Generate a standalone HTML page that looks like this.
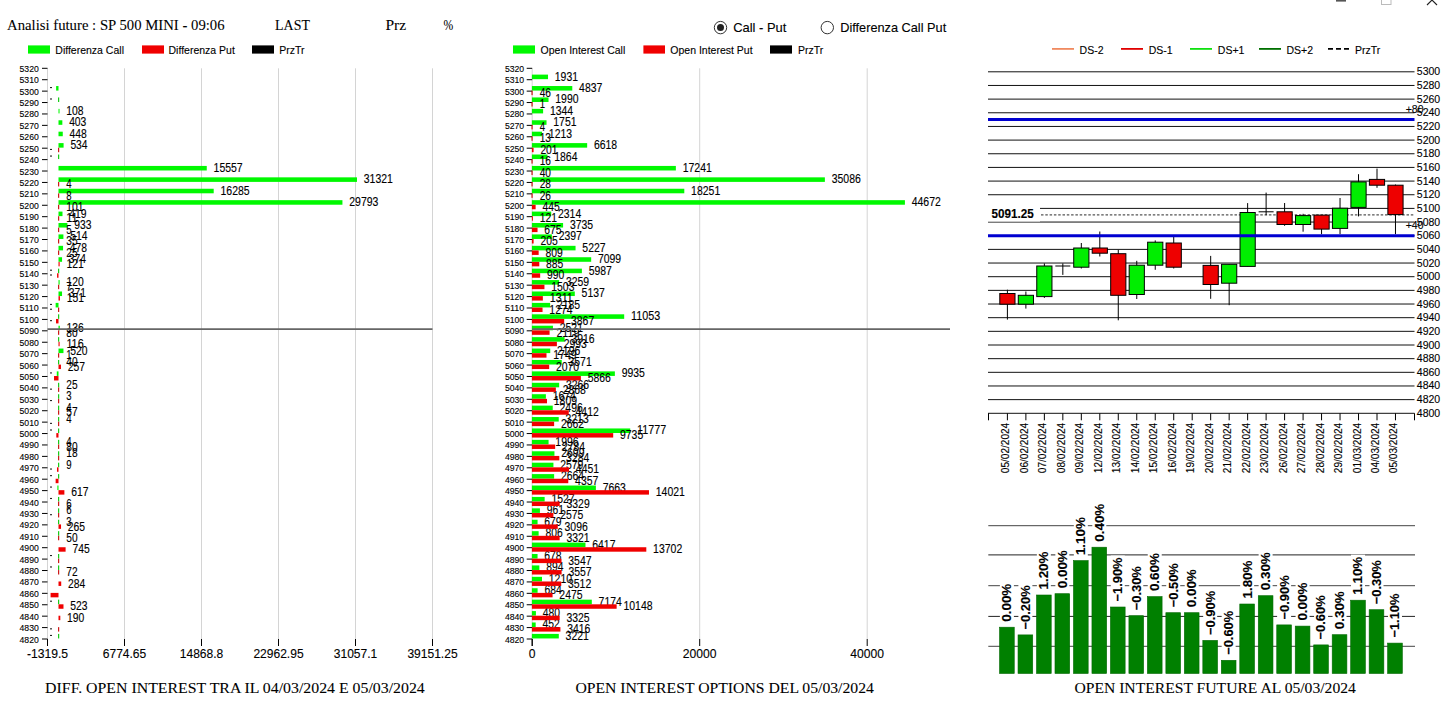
<!DOCTYPE html>
<html><head><meta charset="utf-8"><style>
html,body{margin:0;padding:0;background:#fff;width:1447px;height:705px;overflow:hidden}
svg{display:block}
text{stroke:#000;stroke-width:0.12px}
text.s{stroke-width:0.08px}
</style></head><body>
<svg width="1447" height="705" viewBox="0 0 1447 705">
<rect width="1447" height="705" fill="#fff"/>
<text x="7.00" y="30.05" font-size="15.5" font-family='"Liberation Serif", serif' font-weight="normal" fill="#000" text-anchor="start" textLength="217.6" lengthAdjust="spacingAndGlyphs"  class="s">Analisi future : SP 500 MINI - 09:06</text>
<text x="275.10" y="29.85" font-size="14.5" font-family='"Liberation Serif", serif' font-weight="normal" fill="#000" text-anchor="start" textLength="34.8" lengthAdjust="spacingAndGlyphs"  class="s">LAST</text>
<text x="385.40" y="29.85" font-size="14.5" font-family='"Liberation Serif", serif' font-weight="normal" fill="#000" text-anchor="start" textLength="20.7" lengthAdjust="spacingAndGlyphs"  class="s">Prz</text>
<text x="443.40" y="29.85" font-size="14" font-family='"Liberation Serif", serif' font-weight="normal" fill="#000" text-anchor="start" textLength="9.7" lengthAdjust="spacingAndGlyphs"  class="s">%</text>
<rect x="1336.00" y="0.00" width="10.00" height="1.60" fill="#555" />
<rect x="1381.5" y="-5" width="9.5" height="9.5" fill="none" stroke="#bbb" stroke-width="1"/>
<path d="M1427 5 L1432 0 L1437 5" fill="none" stroke="#222" stroke-width="1.1"/>
<rect x="28.00" y="45.40" width="22.00" height="8.20" fill="#00f800" />
<text x="55.30" y="53.80" font-size="11.5" font-family='"Liberation Sans", sans-serif' font-weight="normal" fill="#000" text-anchor="start" textLength="68.67" lengthAdjust="spacingAndGlyphs" >Differenza Call</text>
<rect x="142.00" y="45.40" width="22.00" height="8.20" fill="#f00000" />
<text x="168.50" y="53.80" font-size="11.5" font-family='"Liberation Sans", sans-serif' font-weight="normal" fill="#000" text-anchor="start" textLength="66.34" lengthAdjust="spacingAndGlyphs" >Differenza Put</text>
<rect x="252.00" y="45.40" width="22.00" height="8.20" fill="#000" />
<text x="279.30" y="53.80" font-size="11.5" font-family='"Liberation Sans", sans-serif' font-weight="normal" fill="#000" text-anchor="start" textLength="25.27" lengthAdjust="spacingAndGlyphs" >PrzTr</text>
<rect x="513.00" y="45.40" width="22.00" height="8.20" fill="#00f800" />
<text x="540.60" y="53.80" font-size="11.5" font-family='"Liberation Sans", sans-serif' font-weight="normal" fill="#000" text-anchor="start" textLength="84.63" lengthAdjust="spacingAndGlyphs" >Open Interest Call</text>
<rect x="643.40" y="45.40" width="21.60" height="8.20" fill="#f00000" />
<text x="670.30" y="53.80" font-size="11.5" font-family='"Liberation Sans", sans-serif' font-weight="normal" fill="#000" text-anchor="start" textLength="82.3" lengthAdjust="spacingAndGlyphs" >Open Interest Put</text>
<rect x="770.00" y="45.40" width="22.00" height="8.20" fill="#000" />
<text x="797.90" y="53.80" font-size="11.5" font-family='"Liberation Sans", sans-serif' font-weight="normal" fill="#000" text-anchor="start" textLength="25.27" lengthAdjust="spacingAndGlyphs" >PrzTr</text>
<circle cx="720.5" cy="27.6" r="6.2" fill="#fff" stroke="#333" stroke-width="1"/>
<circle cx="720.5" cy="27.6" r="3.5" fill="#222"/>
<text x="733.20" y="32.48" font-size="13" font-family='"Liberation Sans", sans-serif' font-weight="normal" fill="#000" text-anchor="start" textLength="53.1" lengthAdjust="spacingAndGlyphs" >Call - Put</text>
<circle cx="827.3" cy="27.6" r="6.2" fill="#fff" stroke="#333" stroke-width="1"/>
<text x="840.20" y="32.48" font-size="13" font-family='"Liberation Sans", sans-serif' font-weight="normal" fill="#000" text-anchor="start" textLength="106" lengthAdjust="spacingAndGlyphs" >Differenza Call Put</text>
<line x1="124.50" y1="68.30" x2="124.50" y2="639.00" stroke="#d4d4d4" stroke-width="1" />
<line x1="201.50" y1="68.30" x2="201.50" y2="639.00" stroke="#d4d4d4" stroke-width="1" />
<line x1="278.50" y1="68.30" x2="278.50" y2="639.00" stroke="#d4d4d4" stroke-width="1" />
<line x1="355.50" y1="68.30" x2="355.50" y2="639.00" stroke="#d4d4d4" stroke-width="1" />
<line x1="432.50" y1="68.30" x2="432.50" y2="639.00" stroke="#d4d4d4" stroke-width="1" />
<line x1="47.50" y1="68.30" x2="47.50" y2="639.00" stroke="#d4d4d4" stroke-width="1" />
<line x1="47.50" y1="639.00" x2="47.50" y2="646.00" stroke="#000" stroke-width="1" />
<line x1="42.00" y1="68.30" x2="47.50" y2="68.30" stroke="#000" stroke-width="1" />
<text x="38.80" y="71.80" font-size="9.5" font-family='"Liberation Sans", sans-serif' font-weight="normal" fill="#000" text-anchor="end" textLength="19.3" lengthAdjust="spacingAndGlyphs" >5320</text>
<line x1="42.00" y1="79.71" x2="47.50" y2="79.71" stroke="#000" stroke-width="1" />
<text x="38.80" y="83.21" font-size="9.5" font-family='"Liberation Sans", sans-serif' font-weight="normal" fill="#000" text-anchor="end" textLength="19.3" lengthAdjust="spacingAndGlyphs" >5310</text>
<line x1="42.00" y1="91.13" x2="47.50" y2="91.13" stroke="#000" stroke-width="1" />
<text x="38.80" y="94.63" font-size="9.5" font-family='"Liberation Sans", sans-serif' font-weight="normal" fill="#000" text-anchor="end" textLength="19.3" lengthAdjust="spacingAndGlyphs" >5300</text>
<line x1="42.00" y1="102.54" x2="47.50" y2="102.54" stroke="#000" stroke-width="1" />
<text x="38.80" y="106.04" font-size="9.5" font-family='"Liberation Sans", sans-serif' font-weight="normal" fill="#000" text-anchor="end" textLength="19.3" lengthAdjust="spacingAndGlyphs" >5290</text>
<line x1="42.00" y1="113.96" x2="47.50" y2="113.96" stroke="#000" stroke-width="1" />
<text x="38.80" y="117.46" font-size="9.5" font-family='"Liberation Sans", sans-serif' font-weight="normal" fill="#000" text-anchor="end" textLength="19.3" lengthAdjust="spacingAndGlyphs" >5280</text>
<line x1="42.00" y1="125.37" x2="47.50" y2="125.37" stroke="#000" stroke-width="1" />
<text x="38.80" y="128.87" font-size="9.5" font-family='"Liberation Sans", sans-serif' font-weight="normal" fill="#000" text-anchor="end" textLength="19.3" lengthAdjust="spacingAndGlyphs" >5270</text>
<line x1="42.00" y1="136.78" x2="47.50" y2="136.78" stroke="#000" stroke-width="1" />
<text x="38.80" y="140.28" font-size="9.5" font-family='"Liberation Sans", sans-serif' font-weight="normal" fill="#000" text-anchor="end" textLength="19.3" lengthAdjust="spacingAndGlyphs" >5260</text>
<line x1="42.00" y1="148.20" x2="47.50" y2="148.20" stroke="#000" stroke-width="1" />
<text x="38.80" y="151.70" font-size="9.5" font-family='"Liberation Sans", sans-serif' font-weight="normal" fill="#000" text-anchor="end" textLength="19.3" lengthAdjust="spacingAndGlyphs" >5250</text>
<line x1="42.00" y1="159.61" x2="47.50" y2="159.61" stroke="#000" stroke-width="1" />
<text x="38.80" y="163.11" font-size="9.5" font-family='"Liberation Sans", sans-serif' font-weight="normal" fill="#000" text-anchor="end" textLength="19.3" lengthAdjust="spacingAndGlyphs" >5240</text>
<line x1="42.00" y1="171.03" x2="47.50" y2="171.03" stroke="#000" stroke-width="1" />
<text x="38.80" y="174.53" font-size="9.5" font-family='"Liberation Sans", sans-serif' font-weight="normal" fill="#000" text-anchor="end" textLength="19.3" lengthAdjust="spacingAndGlyphs" >5230</text>
<line x1="42.00" y1="182.44" x2="47.50" y2="182.44" stroke="#000" stroke-width="1" />
<text x="38.80" y="185.94" font-size="9.5" font-family='"Liberation Sans", sans-serif' font-weight="normal" fill="#000" text-anchor="end" textLength="19.3" lengthAdjust="spacingAndGlyphs" >5220</text>
<line x1="42.00" y1="193.85" x2="47.50" y2="193.85" stroke="#000" stroke-width="1" />
<text x="38.80" y="197.35" font-size="9.5" font-family='"Liberation Sans", sans-serif' font-weight="normal" fill="#000" text-anchor="end" textLength="19.3" lengthAdjust="spacingAndGlyphs" >5210</text>
<line x1="42.00" y1="205.27" x2="47.50" y2="205.27" stroke="#000" stroke-width="1" />
<text x="38.80" y="208.77" font-size="9.5" font-family='"Liberation Sans", sans-serif' font-weight="normal" fill="#000" text-anchor="end" textLength="19.3" lengthAdjust="spacingAndGlyphs" >5200</text>
<line x1="42.00" y1="216.68" x2="47.50" y2="216.68" stroke="#000" stroke-width="1" />
<text x="38.80" y="220.18" font-size="9.5" font-family='"Liberation Sans", sans-serif' font-weight="normal" fill="#000" text-anchor="end" textLength="19.3" lengthAdjust="spacingAndGlyphs" >5190</text>
<line x1="42.00" y1="228.10" x2="47.50" y2="228.10" stroke="#000" stroke-width="1" />
<text x="38.80" y="231.60" font-size="9.5" font-family='"Liberation Sans", sans-serif' font-weight="normal" fill="#000" text-anchor="end" textLength="19.3" lengthAdjust="spacingAndGlyphs" >5180</text>
<line x1="42.00" y1="239.51" x2="47.50" y2="239.51" stroke="#000" stroke-width="1" />
<text x="38.80" y="243.01" font-size="9.5" font-family='"Liberation Sans", sans-serif' font-weight="normal" fill="#000" text-anchor="end" textLength="19.3" lengthAdjust="spacingAndGlyphs" >5170</text>
<line x1="42.00" y1="250.92" x2="47.50" y2="250.92" stroke="#000" stroke-width="1" />
<text x="38.80" y="254.42" font-size="9.5" font-family='"Liberation Sans", sans-serif' font-weight="normal" fill="#000" text-anchor="end" textLength="19.3" lengthAdjust="spacingAndGlyphs" >5160</text>
<line x1="42.00" y1="262.34" x2="47.50" y2="262.34" stroke="#000" stroke-width="1" />
<text x="38.80" y="265.84" font-size="9.5" font-family='"Liberation Sans", sans-serif' font-weight="normal" fill="#000" text-anchor="end" textLength="19.3" lengthAdjust="spacingAndGlyphs" >5150</text>
<line x1="42.00" y1="273.75" x2="47.50" y2="273.75" stroke="#000" stroke-width="1" />
<text x="38.80" y="277.25" font-size="9.5" font-family='"Liberation Sans", sans-serif' font-weight="normal" fill="#000" text-anchor="end" textLength="19.3" lengthAdjust="spacingAndGlyphs" >5140</text>
<line x1="42.00" y1="285.17" x2="47.50" y2="285.17" stroke="#000" stroke-width="1" />
<text x="38.80" y="288.67" font-size="9.5" font-family='"Liberation Sans", sans-serif' font-weight="normal" fill="#000" text-anchor="end" textLength="19.3" lengthAdjust="spacingAndGlyphs" >5130</text>
<line x1="42.00" y1="296.58" x2="47.50" y2="296.58" stroke="#000" stroke-width="1" />
<text x="38.80" y="300.08" font-size="9.5" font-family='"Liberation Sans", sans-serif' font-weight="normal" fill="#000" text-anchor="end" textLength="19.3" lengthAdjust="spacingAndGlyphs" >5120</text>
<line x1="42.00" y1="307.99" x2="47.50" y2="307.99" stroke="#000" stroke-width="1" />
<text x="38.80" y="311.49" font-size="9.5" font-family='"Liberation Sans", sans-serif' font-weight="normal" fill="#000" text-anchor="end" textLength="19.3" lengthAdjust="spacingAndGlyphs" >5110</text>
<line x1="42.00" y1="319.41" x2="47.50" y2="319.41" stroke="#000" stroke-width="1" />
<text x="38.80" y="322.91" font-size="9.5" font-family='"Liberation Sans", sans-serif' font-weight="normal" fill="#000" text-anchor="end" textLength="19.3" lengthAdjust="spacingAndGlyphs" >5100</text>
<line x1="42.00" y1="330.82" x2="47.50" y2="330.82" stroke="#000" stroke-width="1" />
<text x="38.80" y="334.32" font-size="9.5" font-family='"Liberation Sans", sans-serif' font-weight="normal" fill="#000" text-anchor="end" textLength="19.3" lengthAdjust="spacingAndGlyphs" >5090</text>
<line x1="42.00" y1="342.24" x2="47.50" y2="342.24" stroke="#000" stroke-width="1" />
<text x="38.80" y="345.74" font-size="9.5" font-family='"Liberation Sans", sans-serif' font-weight="normal" fill="#000" text-anchor="end" textLength="19.3" lengthAdjust="spacingAndGlyphs" >5080</text>
<line x1="42.00" y1="353.65" x2="47.50" y2="353.65" stroke="#000" stroke-width="1" />
<text x="38.80" y="357.15" font-size="9.5" font-family='"Liberation Sans", sans-serif' font-weight="normal" fill="#000" text-anchor="end" textLength="19.3" lengthAdjust="spacingAndGlyphs" >5070</text>
<line x1="42.00" y1="365.06" x2="47.50" y2="365.06" stroke="#000" stroke-width="1" />
<text x="38.80" y="368.56" font-size="9.5" font-family='"Liberation Sans", sans-serif' font-weight="normal" fill="#000" text-anchor="end" textLength="19.3" lengthAdjust="spacingAndGlyphs" >5060</text>
<line x1="42.00" y1="376.48" x2="47.50" y2="376.48" stroke="#000" stroke-width="1" />
<text x="38.80" y="379.98" font-size="9.5" font-family='"Liberation Sans", sans-serif' font-weight="normal" fill="#000" text-anchor="end" textLength="19.3" lengthAdjust="spacingAndGlyphs" >5050</text>
<line x1="42.00" y1="387.89" x2="47.50" y2="387.89" stroke="#000" stroke-width="1" />
<text x="38.80" y="391.39" font-size="9.5" font-family='"Liberation Sans", sans-serif' font-weight="normal" fill="#000" text-anchor="end" textLength="19.3" lengthAdjust="spacingAndGlyphs" >5040</text>
<line x1="42.00" y1="399.31" x2="47.50" y2="399.31" stroke="#000" stroke-width="1" />
<text x="38.80" y="402.81" font-size="9.5" font-family='"Liberation Sans", sans-serif' font-weight="normal" fill="#000" text-anchor="end" textLength="19.3" lengthAdjust="spacingAndGlyphs" >5030</text>
<line x1="42.00" y1="410.72" x2="47.50" y2="410.72" stroke="#000" stroke-width="1" />
<text x="38.80" y="414.22" font-size="9.5" font-family='"Liberation Sans", sans-serif' font-weight="normal" fill="#000" text-anchor="end" textLength="19.3" lengthAdjust="spacingAndGlyphs" >5020</text>
<line x1="42.00" y1="422.13" x2="47.50" y2="422.13" stroke="#000" stroke-width="1" />
<text x="38.80" y="425.63" font-size="9.5" font-family='"Liberation Sans", sans-serif' font-weight="normal" fill="#000" text-anchor="end" textLength="19.3" lengthAdjust="spacingAndGlyphs" >5010</text>
<line x1="42.00" y1="433.55" x2="47.50" y2="433.55" stroke="#000" stroke-width="1" />
<text x="38.80" y="437.05" font-size="9.5" font-family='"Liberation Sans", sans-serif' font-weight="normal" fill="#000" text-anchor="end" textLength="19.3" lengthAdjust="spacingAndGlyphs" >5000</text>
<line x1="42.00" y1="444.96" x2="47.50" y2="444.96" stroke="#000" stroke-width="1" />
<text x="38.80" y="448.46" font-size="9.5" font-family='"Liberation Sans", sans-serif' font-weight="normal" fill="#000" text-anchor="end" textLength="19.3" lengthAdjust="spacingAndGlyphs" >4990</text>
<line x1="42.00" y1="456.38" x2="47.50" y2="456.38" stroke="#000" stroke-width="1" />
<text x="38.80" y="459.88" font-size="9.5" font-family='"Liberation Sans", sans-serif' font-weight="normal" fill="#000" text-anchor="end" textLength="19.3" lengthAdjust="spacingAndGlyphs" >4980</text>
<line x1="42.00" y1="467.79" x2="47.50" y2="467.79" stroke="#000" stroke-width="1" />
<text x="38.80" y="471.29" font-size="9.5" font-family='"Liberation Sans", sans-serif' font-weight="normal" fill="#000" text-anchor="end" textLength="19.3" lengthAdjust="spacingAndGlyphs" >4970</text>
<line x1="42.00" y1="479.20" x2="47.50" y2="479.20" stroke="#000" stroke-width="1" />
<text x="38.80" y="482.70" font-size="9.5" font-family='"Liberation Sans", sans-serif' font-weight="normal" fill="#000" text-anchor="end" textLength="19.3" lengthAdjust="spacingAndGlyphs" >4960</text>
<line x1="42.00" y1="490.62" x2="47.50" y2="490.62" stroke="#000" stroke-width="1" />
<text x="38.80" y="494.12" font-size="9.5" font-family='"Liberation Sans", sans-serif' font-weight="normal" fill="#000" text-anchor="end" textLength="19.3" lengthAdjust="spacingAndGlyphs" >4950</text>
<line x1="42.00" y1="502.03" x2="47.50" y2="502.03" stroke="#000" stroke-width="1" />
<text x="38.80" y="505.53" font-size="9.5" font-family='"Liberation Sans", sans-serif' font-weight="normal" fill="#000" text-anchor="end" textLength="19.3" lengthAdjust="spacingAndGlyphs" >4940</text>
<line x1="42.00" y1="513.45" x2="47.50" y2="513.45" stroke="#000" stroke-width="1" />
<text x="38.80" y="516.95" font-size="9.5" font-family='"Liberation Sans", sans-serif' font-weight="normal" fill="#000" text-anchor="end" textLength="19.3" lengthAdjust="spacingAndGlyphs" >4930</text>
<line x1="42.00" y1="524.86" x2="47.50" y2="524.86" stroke="#000" stroke-width="1" />
<text x="38.80" y="528.36" font-size="9.5" font-family='"Liberation Sans", sans-serif' font-weight="normal" fill="#000" text-anchor="end" textLength="19.3" lengthAdjust="spacingAndGlyphs" >4920</text>
<line x1="42.00" y1="536.27" x2="47.50" y2="536.27" stroke="#000" stroke-width="1" />
<text x="38.80" y="539.77" font-size="9.5" font-family='"Liberation Sans", sans-serif' font-weight="normal" fill="#000" text-anchor="end" textLength="19.3" lengthAdjust="spacingAndGlyphs" >4910</text>
<line x1="42.00" y1="547.69" x2="47.50" y2="547.69" stroke="#000" stroke-width="1" />
<text x="38.80" y="551.19" font-size="9.5" font-family='"Liberation Sans", sans-serif' font-weight="normal" fill="#000" text-anchor="end" textLength="19.3" lengthAdjust="spacingAndGlyphs" >4900</text>
<line x1="42.00" y1="559.10" x2="47.50" y2="559.10" stroke="#000" stroke-width="1" />
<text x="38.80" y="562.60" font-size="9.5" font-family='"Liberation Sans", sans-serif' font-weight="normal" fill="#000" text-anchor="end" textLength="19.3" lengthAdjust="spacingAndGlyphs" >4890</text>
<line x1="42.00" y1="570.52" x2="47.50" y2="570.52" stroke="#000" stroke-width="1" />
<text x="38.80" y="574.02" font-size="9.5" font-family='"Liberation Sans", sans-serif' font-weight="normal" fill="#000" text-anchor="end" textLength="19.3" lengthAdjust="spacingAndGlyphs" >4880</text>
<line x1="42.00" y1="581.93" x2="47.50" y2="581.93" stroke="#000" stroke-width="1" />
<text x="38.80" y="585.43" font-size="9.5" font-family='"Liberation Sans", sans-serif' font-weight="normal" fill="#000" text-anchor="end" textLength="19.3" lengthAdjust="spacingAndGlyphs" >4870</text>
<line x1="42.00" y1="593.34" x2="47.50" y2="593.34" stroke="#000" stroke-width="1" />
<text x="38.80" y="596.84" font-size="9.5" font-family='"Liberation Sans", sans-serif' font-weight="normal" fill="#000" text-anchor="end" textLength="19.3" lengthAdjust="spacingAndGlyphs" >4860</text>
<line x1="42.00" y1="604.76" x2="47.50" y2="604.76" stroke="#000" stroke-width="1" />
<text x="38.80" y="608.26" font-size="9.5" font-family='"Liberation Sans", sans-serif' font-weight="normal" fill="#000" text-anchor="end" textLength="19.3" lengthAdjust="spacingAndGlyphs" >4850</text>
<line x1="42.00" y1="616.17" x2="47.50" y2="616.17" stroke="#000" stroke-width="1" />
<text x="38.80" y="619.67" font-size="9.5" font-family='"Liberation Sans", sans-serif' font-weight="normal" fill="#000" text-anchor="end" textLength="19.3" lengthAdjust="spacingAndGlyphs" >4840</text>
<line x1="42.00" y1="627.59" x2="47.50" y2="627.59" stroke="#000" stroke-width="1" />
<text x="38.80" y="631.09" font-size="9.5" font-family='"Liberation Sans", sans-serif' font-weight="normal" fill="#000" text-anchor="end" textLength="19.3" lengthAdjust="spacingAndGlyphs" >4830</text>
<line x1="42.00" y1="639.00" x2="47.50" y2="639.00" stroke="#000" stroke-width="1" />
<text x="38.80" y="642.50" font-size="9.5" font-family='"Liberation Sans", sans-serif' font-weight="normal" fill="#000" text-anchor="end" textLength="19.3" lengthAdjust="spacingAndGlyphs" >4820</text>
<line x1="47.50" y1="639.00" x2="47.50" y2="646.00" stroke="#000" stroke-width="1" />
<text x="47.50" y="658.00" font-size="13" font-family='"Liberation Sans", sans-serif' font-weight="normal" fill="#000" text-anchor="middle" textLength="41.25" lengthAdjust="spacingAndGlyphs" >-1319.5</text>
<line x1="124.50" y1="639.00" x2="124.50" y2="646.00" stroke="#000" stroke-width="1" />
<text x="124.50" y="658.00" font-size="13" font-family='"Liberation Sans", sans-serif' font-weight="normal" fill="#000" text-anchor="middle" textLength="43.5" lengthAdjust="spacingAndGlyphs" >6774.65</text>
<line x1="201.50" y1="639.00" x2="201.50" y2="646.00" stroke="#000" stroke-width="1" />
<text x="201.50" y="658.00" font-size="13" font-family='"Liberation Sans", sans-serif' font-weight="normal" fill="#000" text-anchor="middle" textLength="43.5" lengthAdjust="spacingAndGlyphs" >14868.8</text>
<line x1="278.50" y1="639.00" x2="278.50" y2="646.00" stroke="#000" stroke-width="1" />
<text x="278.50" y="658.00" font-size="13" font-family='"Liberation Sans", sans-serif' font-weight="normal" fill="#000" text-anchor="middle" textLength="50.25" lengthAdjust="spacingAndGlyphs" >22962.95</text>
<line x1="355.50" y1="639.00" x2="355.50" y2="646.00" stroke="#000" stroke-width="1" />
<text x="355.50" y="658.00" font-size="13" font-family='"Liberation Sans", sans-serif' font-weight="normal" fill="#000" text-anchor="middle" textLength="43.5" lengthAdjust="spacingAndGlyphs" >31057.1</text>
<line x1="432.50" y1="639.00" x2="432.50" y2="646.00" stroke="#000" stroke-width="1" />
<text x="432.50" y="658.00" font-size="13" font-family='"Liberation Sans", sans-serif' font-weight="normal" fill="#000" text-anchor="middle" textLength="50.25" lengthAdjust="spacingAndGlyphs" >39151.25</text>
<rect x="56.12" y="86.03" width="2.38" height="4.55" fill="#00f800" />
<rect x="50.00" y="87.03" width="2.00" height="1.10" fill="#222" />
<rect x="58.10" y="97.44" width="1.10" height="4.55" fill="#00c800" />
<rect x="50.00" y="98.44" width="2.00" height="1.10" fill="#222" />
<rect x="58.50" y="108.86" width="1.03" height="4.55" fill="#00f800" />
<rect x="58.50" y="120.27" width="3.84" height="4.55" fill="#00f800" />
<rect x="58.50" y="131.68" width="4.27" height="4.55" fill="#00f800" />
<rect x="58.50" y="143.10" width="5.09" height="4.55" fill="#00f800" />
<rect x="58.10" y="154.51" width="1.10" height="4.55" fill="#00c800" />
<rect x="50.00" y="155.51" width="2.00" height="1.10" fill="#222" />
<rect x="58.50" y="165.93" width="148.26" height="4.55" fill="#00f800" />
<rect x="58.50" y="177.34" width="298.49" height="4.55" fill="#00f800" />
<rect x="58.50" y="188.75" width="155.20" height="4.55" fill="#00f800" />
<rect x="58.50" y="200.17" width="283.93" height="4.55" fill="#00f800" />
<rect x="58.50" y="211.58" width="3.99" height="4.55" fill="#00f800" />
<rect x="58.50" y="223.00" width="8.89" height="4.55" fill="#00f800" />
<rect x="58.50" y="234.41" width="4.90" height="4.55" fill="#00f800" />
<rect x="58.50" y="245.82" width="4.56" height="4.55" fill="#00f800" />
<rect x="58.50" y="257.24" width="3.56" height="4.55" fill="#00f800" />
<rect x="58.10" y="268.65" width="1.10" height="4.55" fill="#00c800" />
<rect x="50.00" y="269.65" width="2.00" height="1.10" fill="#222" />
<rect x="58.50" y="280.07" width="1.14" height="4.55" fill="#00f800" />
<rect x="58.50" y="291.48" width="3.54" height="4.55" fill="#00f800" />
<rect x="55.64" y="302.89" width="2.86" height="4.55" fill="#00f800" />
<rect x="50.00" y="303.89" width="2.00" height="1.10" fill="#222" />
<rect x="58.10" y="314.31" width="1.10" height="4.55" fill="#00c800" />
<rect x="58.50" y="325.72" width="1.30" height="4.55" fill="#00f800" />
<rect x="58.10" y="337.14" width="1.10" height="4.55" fill="#00c800" />
<rect x="58.50" y="348.55" width="4.96" height="4.55" fill="#00f800" />
<rect x="58.10" y="359.96" width="1.10" height="4.55" fill="#00c800" />
<rect x="56.78" y="371.38" width="1.72" height="4.55" fill="#00f800" />
<rect x="50.00" y="372.38" width="2.00" height="1.10" fill="#222" />
<rect x="58.10" y="382.79" width="1.10" height="4.55" fill="#00c800" />
<rect x="58.10" y="394.21" width="1.10" height="4.55" fill="#00c800" />
<rect x="58.10" y="405.62" width="1.10" height="4.55" fill="#00c800" />
<rect x="58.10" y="417.03" width="1.10" height="4.55" fill="#00c800" />
<rect x="58.10" y="428.45" width="1.10" height="4.55" fill="#00c800" />
<rect x="50.00" y="429.45" width="2.00" height="1.10" fill="#222" />
<rect x="58.10" y="439.86" width="1.10" height="4.55" fill="#00c800" />
<rect x="58.10" y="451.28" width="1.10" height="4.55" fill="#00c800" />
<rect x="58.10" y="462.69" width="1.10" height="4.55" fill="#00c800" />
<rect x="58.10" y="474.10" width="1.10" height="4.55" fill="#00c800" />
<rect x="50.00" y="475.10" width="2.00" height="1.10" fill="#222" />
<rect x="57.36" y="485.52" width="1.14" height="4.55" fill="#00f800" />
<rect x="50.00" y="486.52" width="2.00" height="1.10" fill="#222" />
<rect x="58.10" y="496.93" width="1.10" height="4.55" fill="#00c800" />
<rect x="50.00" y="497.93" width="2.00" height="1.10" fill="#222" />
<rect x="58.10" y="508.35" width="1.10" height="4.55" fill="#00c800" />
<rect x="58.10" y="519.76" width="1.10" height="4.55" fill="#00c800" />
<rect x="58.10" y="531.17" width="1.10" height="4.55" fill="#00c800" />
<rect x="58.10" y="554.00" width="1.10" height="4.55" fill="#00c800" />
<rect x="50.00" y="555.00" width="2.00" height="1.10" fill="#222" />
<rect x="58.10" y="565.42" width="1.10" height="4.55" fill="#00c800" />
<rect x="50.00" y="566.42" width="2.00" height="1.10" fill="#222" />
<rect x="58.10" y="599.66" width="1.10" height="4.55" fill="#00c800" />
<rect x="50.00" y="600.66" width="2.00" height="1.10" fill="#222" />
<rect x="58.10" y="633.90" width="1.10" height="4.55" fill="#00c800" />
<rect x="50.00" y="634.90" width="2.00" height="1.10" fill="#222" />
<text x="66.33" y="114.86" font-size="12" font-family='"Liberation Sans", sans-serif' font-weight="normal" fill="#000" text-anchor="start" textLength="17.25" lengthAdjust="spacingAndGlyphs" >108</text>
<text x="69.14" y="126.27" font-size="12" font-family='"Liberation Sans", sans-serif' font-weight="normal" fill="#000" text-anchor="start" textLength="17.25" lengthAdjust="spacingAndGlyphs" >403</text>
<text x="69.57" y="137.68" font-size="12" font-family='"Liberation Sans", sans-serif' font-weight="normal" fill="#000" text-anchor="start" textLength="17.25" lengthAdjust="spacingAndGlyphs" >448</text>
<text x="70.39" y="149.10" font-size="12" font-family='"Liberation Sans", sans-serif' font-weight="normal" fill="#000" text-anchor="start" textLength="17.25" lengthAdjust="spacingAndGlyphs" >534</text>
<text x="213.56" y="171.93" font-size="12" font-family='"Liberation Sans", sans-serif' font-weight="normal" fill="#000" text-anchor="start" textLength="29.15" lengthAdjust="spacingAndGlyphs" >15557</text>
<text x="363.79" y="183.34" font-size="12" font-family='"Liberation Sans", sans-serif' font-weight="normal" fill="#000" text-anchor="start" textLength="29.15" lengthAdjust="spacingAndGlyphs" >31321</text>
<text x="220.50" y="194.75" font-size="12" font-family='"Liberation Sans", sans-serif' font-weight="normal" fill="#000" text-anchor="start" textLength="29.15" lengthAdjust="spacingAndGlyphs" >16285</text>
<text x="349.23" y="206.17" font-size="12" font-family='"Liberation Sans", sans-serif' font-weight="normal" fill="#000" text-anchor="start" textLength="29.15" lengthAdjust="spacingAndGlyphs" >29793</text>
<text x="69.29" y="217.58" font-size="12" font-family='"Liberation Sans", sans-serif' font-weight="normal" fill="#000" text-anchor="start" textLength="17.25" lengthAdjust="spacingAndGlyphs" >419</text>
<text x="74.19" y="229.00" font-size="12" font-family='"Liberation Sans", sans-serif' font-weight="normal" fill="#000" text-anchor="start" textLength="17.25" lengthAdjust="spacingAndGlyphs" >933</text>
<text x="70.20" y="240.41" font-size="12" font-family='"Liberation Sans", sans-serif' font-weight="normal" fill="#000" text-anchor="start" textLength="17.25" lengthAdjust="spacingAndGlyphs" >514</text>
<text x="69.86" y="251.82" font-size="12" font-family='"Liberation Sans", sans-serif' font-weight="normal" fill="#000" text-anchor="start" textLength="17.25" lengthAdjust="spacingAndGlyphs" >478</text>
<text x="68.86" y="263.24" font-size="12" font-family='"Liberation Sans", sans-serif' font-weight="normal" fill="#000" text-anchor="start" textLength="17.25" lengthAdjust="spacingAndGlyphs" >374</text>
<text x="66.44" y="286.07" font-size="12" font-family='"Liberation Sans", sans-serif' font-weight="normal" fill="#000" text-anchor="start" textLength="17.25" lengthAdjust="spacingAndGlyphs" >120</text>
<text x="68.84" y="297.48" font-size="12" font-family='"Liberation Sans", sans-serif' font-weight="normal" fill="#000" text-anchor="start" textLength="17.25" lengthAdjust="spacingAndGlyphs" >371</text>
<text x="66.60" y="331.72" font-size="12" font-family='"Liberation Sans", sans-serif' font-weight="normal" fill="#000" text-anchor="start" textLength="17.25" lengthAdjust="spacingAndGlyphs" >136</text>
<text x="70.26" y="354.55" font-size="12" font-family='"Liberation Sans", sans-serif' font-weight="normal" fill="#000" text-anchor="start" textLength="17.25" lengthAdjust="spacingAndGlyphs" >520</text>
<text x="66.30" y="365.96" font-size="12" font-family='"Liberation Sans", sans-serif' font-weight="normal" fill="#000" text-anchor="start" textLength="11.3" lengthAdjust="spacingAndGlyphs" >40</text>
<text x="66.30" y="388.79" font-size="12" font-family='"Liberation Sans", sans-serif' font-weight="normal" fill="#000" text-anchor="start" textLength="11.3" lengthAdjust="spacingAndGlyphs" >25</text>
<text x="66.30" y="400.21" font-size="12" font-family='"Liberation Sans", sans-serif' font-weight="normal" fill="#000" text-anchor="start" textLength="5.3500000000000005" lengthAdjust="spacingAndGlyphs" >3</text>
<text x="66.30" y="411.62" font-size="12" font-family='"Liberation Sans", sans-serif' font-weight="normal" fill="#000" text-anchor="start" textLength="5.3500000000000005" lengthAdjust="spacingAndGlyphs" >4</text>
<text x="66.30" y="423.03" font-size="12" font-family='"Liberation Sans", sans-serif' font-weight="normal" fill="#000" text-anchor="start" textLength="5.3500000000000005" lengthAdjust="spacingAndGlyphs" >4</text>
<text x="66.30" y="445.86" font-size="12" font-family='"Liberation Sans", sans-serif' font-weight="normal" fill="#000" text-anchor="start" textLength="5.3500000000000005" lengthAdjust="spacingAndGlyphs" >4</text>
<text x="66.30" y="457.28" font-size="12" font-family='"Liberation Sans", sans-serif' font-weight="normal" fill="#000" text-anchor="start" textLength="11.3" lengthAdjust="spacingAndGlyphs" >18</text>
<text x="66.30" y="468.69" font-size="12" font-family='"Liberation Sans", sans-serif' font-weight="normal" fill="#000" text-anchor="start" textLength="5.3500000000000005" lengthAdjust="spacingAndGlyphs" >9</text>
<text x="66.30" y="514.35" font-size="12" font-family='"Liberation Sans", sans-serif' font-weight="normal" fill="#000" text-anchor="start" textLength="5.3500000000000005" lengthAdjust="spacingAndGlyphs" >6</text>
<text x="66.30" y="525.76" font-size="12" font-family='"Liberation Sans", sans-serif' font-weight="normal" fill="#000" text-anchor="start" textLength="5.3500000000000005" lengthAdjust="spacingAndGlyphs" >3</text>
<rect x="58.10" y="147.75" width="1.10" height="4.45" fill="#c80000" />
<rect x="50.00" y="148.90" width="2.00" height="1.10" fill="#222" />
<rect x="58.10" y="181.99" width="1.10" height="4.45" fill="#c80000" />
<rect x="58.10" y="193.40" width="1.10" height="4.45" fill="#c80000" />
<rect x="58.10" y="204.82" width="1.10" height="4.45" fill="#c80000" />
<rect x="58.10" y="216.23" width="1.10" height="4.45" fill="#c80000" />
<rect x="58.10" y="227.65" width="1.10" height="4.45" fill="#c80000" />
<rect x="58.10" y="239.06" width="1.10" height="4.45" fill="#c80000" />
<rect x="58.10" y="250.47" width="1.10" height="4.45" fill="#c80000" />
<rect x="58.50" y="261.89" width="1.15" height="4.45" fill="#f00000" />
<rect x="57.07" y="273.30" width="1.43" height="4.45" fill="#f00000" />
<rect x="50.00" y="274.45" width="2.00" height="1.10" fill="#222" />
<rect x="58.10" y="284.72" width="1.10" height="4.45" fill="#c80000" />
<rect x="58.50" y="296.13" width="1.44" height="4.45" fill="#f00000" />
<rect x="58.10" y="307.54" width="1.10" height="4.45" fill="#c80000" />
<rect x="50.00" y="308.69" width="2.00" height="1.10" fill="#222" />
<rect x="56.02" y="318.96" width="2.48" height="4.45" fill="#f00000" />
<rect x="50.00" y="320.11" width="2.00" height="1.10" fill="#222" />
<rect x="58.10" y="330.37" width="1.10" height="4.45" fill="#c80000" />
<rect x="58.50" y="341.79" width="1.11" height="4.45" fill="#f00000" />
<rect x="58.10" y="353.20" width="1.10" height="4.45" fill="#c80000" />
<rect x="58.50" y="364.61" width="2.45" height="4.45" fill="#f00000" />
<rect x="54.02" y="376.03" width="4.48" height="4.45" fill="#f00000" />
<rect x="58.10" y="387.44" width="1.10" height="4.45" fill="#c80000" />
<rect x="50.00" y="388.59" width="2.00" height="1.10" fill="#222" />
<rect x="58.10" y="398.86" width="1.10" height="4.45" fill="#c80000" />
<rect x="50.00" y="400.01" width="2.00" height="1.10" fill="#222" />
<rect x="58.10" y="410.27" width="1.10" height="4.45" fill="#c80000" />
<rect x="58.10" y="421.68" width="1.10" height="4.45" fill="#c80000" />
<rect x="50.00" y="422.83" width="2.00" height="1.10" fill="#222" />
<rect x="56.31" y="433.10" width="2.19" height="4.45" fill="#f00000" />
<rect x="58.10" y="444.51" width="1.10" height="4.45" fill="#c80000" />
<rect x="58.10" y="455.93" width="1.10" height="4.45" fill="#c80000" />
<rect x="56.98" y="467.34" width="1.52" height="4.45" fill="#f00000" />
<rect x="50.00" y="468.49" width="2.00" height="1.10" fill="#222" />
<rect x="55.64" y="478.75" width="2.86" height="4.45" fill="#f00000" />
<rect x="58.50" y="490.17" width="5.88" height="4.45" fill="#f00000" />
<rect x="58.10" y="501.58" width="1.10" height="4.45" fill="#c80000" />
<rect x="58.10" y="513.00" width="1.10" height="4.45" fill="#c80000" />
<rect x="50.00" y="514.15" width="2.00" height="1.10" fill="#222" />
<rect x="58.50" y="524.41" width="2.53" height="4.45" fill="#f00000" />
<rect x="58.10" y="535.82" width="1.10" height="4.45" fill="#c80000" />
<rect x="58.50" y="547.24" width="7.10" height="4.45" fill="#f00000" />
<rect x="58.10" y="558.65" width="1.10" height="4.45" fill="#c80000" />
<rect x="58.10" y="570.07" width="1.10" height="4.45" fill="#c80000" />
<rect x="58.50" y="581.48" width="2.71" height="4.45" fill="#f00000" />
<rect x="50.59" y="592.89" width="7.91" height="4.45" fill="#f00000" />
<rect x="58.50" y="604.31" width="4.98" height="4.45" fill="#f00000" />
<rect x="58.50" y="615.72" width="1.81" height="4.45" fill="#f00000" />
<rect x="58.10" y="627.14" width="1.10" height="4.45" fill="#c80000" />
<rect x="50.00" y="628.29" width="2.00" height="1.10" fill="#222" />
<text x="66.30" y="188.14" font-size="12" font-family='"Liberation Sans", sans-serif' font-weight="normal" fill="#000" text-anchor="start" textLength="5.3500000000000005" lengthAdjust="spacingAndGlyphs" >4</text>
<text x="66.30" y="199.55" font-size="12" font-family='"Liberation Sans", sans-serif' font-weight="normal" fill="#000" text-anchor="start" textLength="5.3500000000000005" lengthAdjust="spacingAndGlyphs" >8</text>
<text x="66.30" y="210.97" font-size="12" font-family='"Liberation Sans", sans-serif' font-weight="normal" fill="#000" text-anchor="start" textLength="17.25" lengthAdjust="spacingAndGlyphs" >101</text>
<text x="66.30" y="222.38" font-size="12" font-family='"Liberation Sans", sans-serif' font-weight="normal" fill="#000" text-anchor="start" textLength="11.3" lengthAdjust="spacingAndGlyphs" >11</text>
<text x="66.30" y="233.80" font-size="12" font-family='"Liberation Sans", sans-serif' font-weight="normal" fill="#000" text-anchor="start" textLength="5.3500000000000005" lengthAdjust="spacingAndGlyphs" >5</text>
<text x="66.30" y="245.21" font-size="12" font-family='"Liberation Sans", sans-serif' font-weight="normal" fill="#000" text-anchor="start" textLength="11.3" lengthAdjust="spacingAndGlyphs" >35</text>
<text x="66.30" y="256.62" font-size="12" font-family='"Liberation Sans", sans-serif' font-weight="normal" fill="#000" text-anchor="start" textLength="11.3" lengthAdjust="spacingAndGlyphs" >25</text>
<text x="66.45" y="268.04" font-size="12" font-family='"Liberation Sans", sans-serif' font-weight="normal" fill="#000" text-anchor="start" textLength="17.25" lengthAdjust="spacingAndGlyphs" >121</text>
<text x="66.30" y="290.87" font-size="12" font-family='"Liberation Sans", sans-serif' font-weight="normal" fill="#000" text-anchor="start" textLength="5.3500000000000005" lengthAdjust="spacingAndGlyphs" >7</text>
<text x="66.74" y="302.28" font-size="12" font-family='"Liberation Sans", sans-serif' font-weight="normal" fill="#000" text-anchor="start" textLength="17.25" lengthAdjust="spacingAndGlyphs" >151</text>
<text x="66.30" y="336.52" font-size="12" font-family='"Liberation Sans", sans-serif' font-weight="normal" fill="#000" text-anchor="start" textLength="11.3" lengthAdjust="spacingAndGlyphs" >80</text>
<text x="66.41" y="347.94" font-size="12" font-family='"Liberation Sans", sans-serif' font-weight="normal" fill="#000" text-anchor="start" textLength="17.25" lengthAdjust="spacingAndGlyphs" >116</text>
<text x="66.30" y="359.35" font-size="12" font-family='"Liberation Sans", sans-serif' font-weight="normal" fill="#000" text-anchor="start" textLength="5.3500000000000005" lengthAdjust="spacingAndGlyphs" >1</text>
<text x="67.75" y="370.76" font-size="12" font-family='"Liberation Sans", sans-serif' font-weight="normal" fill="#000" text-anchor="start" textLength="17.25" lengthAdjust="spacingAndGlyphs" >257</text>
<text x="66.30" y="416.42" font-size="12" font-family='"Liberation Sans", sans-serif' font-weight="normal" fill="#000" text-anchor="start" textLength="11.3" lengthAdjust="spacingAndGlyphs" >57</text>
<text x="66.30" y="450.66" font-size="12" font-family='"Liberation Sans", sans-serif' font-weight="normal" fill="#000" text-anchor="start" textLength="11.3" lengthAdjust="spacingAndGlyphs" >80</text>
<text x="71.18" y="496.32" font-size="12" font-family='"Liberation Sans", sans-serif' font-weight="normal" fill="#000" text-anchor="start" textLength="17.25" lengthAdjust="spacingAndGlyphs" >617</text>
<text x="66.30" y="507.73" font-size="12" font-family='"Liberation Sans", sans-serif' font-weight="normal" fill="#000" text-anchor="start" textLength="5.3500000000000005" lengthAdjust="spacingAndGlyphs" >6</text>
<text x="67.83" y="530.56" font-size="12" font-family='"Liberation Sans", sans-serif' font-weight="normal" fill="#000" text-anchor="start" textLength="17.25" lengthAdjust="spacingAndGlyphs" >265</text>
<text x="66.30" y="541.97" font-size="12" font-family='"Liberation Sans", sans-serif' font-weight="normal" fill="#000" text-anchor="start" textLength="11.3" lengthAdjust="spacingAndGlyphs" >50</text>
<text x="72.40" y="553.39" font-size="12" font-family='"Liberation Sans", sans-serif' font-weight="normal" fill="#000" text-anchor="start" textLength="17.25" lengthAdjust="spacingAndGlyphs" >745</text>
<text x="66.30" y="576.22" font-size="12" font-family='"Liberation Sans", sans-serif' font-weight="normal" fill="#000" text-anchor="start" textLength="11.3" lengthAdjust="spacingAndGlyphs" >72</text>
<text x="68.01" y="587.63" font-size="12" font-family='"Liberation Sans", sans-serif' font-weight="normal" fill="#000" text-anchor="start" textLength="17.25" lengthAdjust="spacingAndGlyphs" >284</text>
<text x="70.28" y="610.46" font-size="12" font-family='"Liberation Sans", sans-serif' font-weight="normal" fill="#000" text-anchor="start" textLength="17.25" lengthAdjust="spacingAndGlyphs" >523</text>
<text x="67.11" y="621.87" font-size="12" font-family='"Liberation Sans", sans-serif' font-weight="normal" fill="#000" text-anchor="start" textLength="17.25" lengthAdjust="spacingAndGlyphs" >190</text>
<line x1="47.50" y1="329.10" x2="432.50" y2="329.10" stroke="#666" stroke-width="1.8" />
<line x1="699.70" y1="68.30" x2="699.70" y2="639.00" stroke="#d4d4d4" stroke-width="1" />
<line x1="867.20" y1="68.30" x2="867.20" y2="639.00" stroke="#d4d4d4" stroke-width="1" />
<line x1="532.20" y1="68.30" x2="532.20" y2="639.00" stroke="#d4d4d4" stroke-width="1" />
<line x1="532.20" y1="639.00" x2="532.20" y2="646.00" stroke="#000" stroke-width="1" />
<line x1="526.70" y1="68.30" x2="532.20" y2="68.30" stroke="#000" stroke-width="1" />
<text x="524.20" y="71.80" font-size="9.5" font-family='"Liberation Sans", sans-serif' font-weight="normal" fill="#000" text-anchor="end" textLength="19.3" lengthAdjust="spacingAndGlyphs" >5320</text>
<line x1="526.70" y1="79.71" x2="532.20" y2="79.71" stroke="#000" stroke-width="1" />
<text x="524.20" y="83.21" font-size="9.5" font-family='"Liberation Sans", sans-serif' font-weight="normal" fill="#000" text-anchor="end" textLength="19.3" lengthAdjust="spacingAndGlyphs" >5310</text>
<line x1="526.70" y1="91.13" x2="532.20" y2="91.13" stroke="#000" stroke-width="1" />
<text x="524.20" y="94.63" font-size="9.5" font-family='"Liberation Sans", sans-serif' font-weight="normal" fill="#000" text-anchor="end" textLength="19.3" lengthAdjust="spacingAndGlyphs" >5300</text>
<line x1="526.70" y1="102.54" x2="532.20" y2="102.54" stroke="#000" stroke-width="1" />
<text x="524.20" y="106.04" font-size="9.5" font-family='"Liberation Sans", sans-serif' font-weight="normal" fill="#000" text-anchor="end" textLength="19.3" lengthAdjust="spacingAndGlyphs" >5290</text>
<line x1="526.70" y1="113.96" x2="532.20" y2="113.96" stroke="#000" stroke-width="1" />
<text x="524.20" y="117.46" font-size="9.5" font-family='"Liberation Sans", sans-serif' font-weight="normal" fill="#000" text-anchor="end" textLength="19.3" lengthAdjust="spacingAndGlyphs" >5280</text>
<line x1="526.70" y1="125.37" x2="532.20" y2="125.37" stroke="#000" stroke-width="1" />
<text x="524.20" y="128.87" font-size="9.5" font-family='"Liberation Sans", sans-serif' font-weight="normal" fill="#000" text-anchor="end" textLength="19.3" lengthAdjust="spacingAndGlyphs" >5270</text>
<line x1="526.70" y1="136.78" x2="532.20" y2="136.78" stroke="#000" stroke-width="1" />
<text x="524.20" y="140.28" font-size="9.5" font-family='"Liberation Sans", sans-serif' font-weight="normal" fill="#000" text-anchor="end" textLength="19.3" lengthAdjust="spacingAndGlyphs" >5260</text>
<line x1="526.70" y1="148.20" x2="532.20" y2="148.20" stroke="#000" stroke-width="1" />
<text x="524.20" y="151.70" font-size="9.5" font-family='"Liberation Sans", sans-serif' font-weight="normal" fill="#000" text-anchor="end" textLength="19.3" lengthAdjust="spacingAndGlyphs" >5250</text>
<line x1="526.70" y1="159.61" x2="532.20" y2="159.61" stroke="#000" stroke-width="1" />
<text x="524.20" y="163.11" font-size="9.5" font-family='"Liberation Sans", sans-serif' font-weight="normal" fill="#000" text-anchor="end" textLength="19.3" lengthAdjust="spacingAndGlyphs" >5240</text>
<line x1="526.70" y1="171.03" x2="532.20" y2="171.03" stroke="#000" stroke-width="1" />
<text x="524.20" y="174.53" font-size="9.5" font-family='"Liberation Sans", sans-serif' font-weight="normal" fill="#000" text-anchor="end" textLength="19.3" lengthAdjust="spacingAndGlyphs" >5230</text>
<line x1="526.70" y1="182.44" x2="532.20" y2="182.44" stroke="#000" stroke-width="1" />
<text x="524.20" y="185.94" font-size="9.5" font-family='"Liberation Sans", sans-serif' font-weight="normal" fill="#000" text-anchor="end" textLength="19.3" lengthAdjust="spacingAndGlyphs" >5220</text>
<line x1="526.70" y1="193.85" x2="532.20" y2="193.85" stroke="#000" stroke-width="1" />
<text x="524.20" y="197.35" font-size="9.5" font-family='"Liberation Sans", sans-serif' font-weight="normal" fill="#000" text-anchor="end" textLength="19.3" lengthAdjust="spacingAndGlyphs" >5210</text>
<line x1="526.70" y1="205.27" x2="532.20" y2="205.27" stroke="#000" stroke-width="1" />
<text x="524.20" y="208.77" font-size="9.5" font-family='"Liberation Sans", sans-serif' font-weight="normal" fill="#000" text-anchor="end" textLength="19.3" lengthAdjust="spacingAndGlyphs" >5200</text>
<line x1="526.70" y1="216.68" x2="532.20" y2="216.68" stroke="#000" stroke-width="1" />
<text x="524.20" y="220.18" font-size="9.5" font-family='"Liberation Sans", sans-serif' font-weight="normal" fill="#000" text-anchor="end" textLength="19.3" lengthAdjust="spacingAndGlyphs" >5190</text>
<line x1="526.70" y1="228.10" x2="532.20" y2="228.10" stroke="#000" stroke-width="1" />
<text x="524.20" y="231.60" font-size="9.5" font-family='"Liberation Sans", sans-serif' font-weight="normal" fill="#000" text-anchor="end" textLength="19.3" lengthAdjust="spacingAndGlyphs" >5180</text>
<line x1="526.70" y1="239.51" x2="532.20" y2="239.51" stroke="#000" stroke-width="1" />
<text x="524.20" y="243.01" font-size="9.5" font-family='"Liberation Sans", sans-serif' font-weight="normal" fill="#000" text-anchor="end" textLength="19.3" lengthAdjust="spacingAndGlyphs" >5170</text>
<line x1="526.70" y1="250.92" x2="532.20" y2="250.92" stroke="#000" stroke-width="1" />
<text x="524.20" y="254.42" font-size="9.5" font-family='"Liberation Sans", sans-serif' font-weight="normal" fill="#000" text-anchor="end" textLength="19.3" lengthAdjust="spacingAndGlyphs" >5160</text>
<line x1="526.70" y1="262.34" x2="532.20" y2="262.34" stroke="#000" stroke-width="1" />
<text x="524.20" y="265.84" font-size="9.5" font-family='"Liberation Sans", sans-serif' font-weight="normal" fill="#000" text-anchor="end" textLength="19.3" lengthAdjust="spacingAndGlyphs" >5150</text>
<line x1="526.70" y1="273.75" x2="532.20" y2="273.75" stroke="#000" stroke-width="1" />
<text x="524.20" y="277.25" font-size="9.5" font-family='"Liberation Sans", sans-serif' font-weight="normal" fill="#000" text-anchor="end" textLength="19.3" lengthAdjust="spacingAndGlyphs" >5140</text>
<line x1="526.70" y1="285.17" x2="532.20" y2="285.17" stroke="#000" stroke-width="1" />
<text x="524.20" y="288.67" font-size="9.5" font-family='"Liberation Sans", sans-serif' font-weight="normal" fill="#000" text-anchor="end" textLength="19.3" lengthAdjust="spacingAndGlyphs" >5130</text>
<line x1="526.70" y1="296.58" x2="532.20" y2="296.58" stroke="#000" stroke-width="1" />
<text x="524.20" y="300.08" font-size="9.5" font-family='"Liberation Sans", sans-serif' font-weight="normal" fill="#000" text-anchor="end" textLength="19.3" lengthAdjust="spacingAndGlyphs" >5120</text>
<line x1="526.70" y1="307.99" x2="532.20" y2="307.99" stroke="#000" stroke-width="1" />
<text x="524.20" y="311.49" font-size="9.5" font-family='"Liberation Sans", sans-serif' font-weight="normal" fill="#000" text-anchor="end" textLength="19.3" lengthAdjust="spacingAndGlyphs" >5110</text>
<line x1="526.70" y1="319.41" x2="532.20" y2="319.41" stroke="#000" stroke-width="1" />
<text x="524.20" y="322.91" font-size="9.5" font-family='"Liberation Sans", sans-serif' font-weight="normal" fill="#000" text-anchor="end" textLength="19.3" lengthAdjust="spacingAndGlyphs" >5100</text>
<line x1="526.70" y1="330.82" x2="532.20" y2="330.82" stroke="#000" stroke-width="1" />
<text x="524.20" y="334.32" font-size="9.5" font-family='"Liberation Sans", sans-serif' font-weight="normal" fill="#000" text-anchor="end" textLength="19.3" lengthAdjust="spacingAndGlyphs" >5090</text>
<line x1="526.70" y1="342.24" x2="532.20" y2="342.24" stroke="#000" stroke-width="1" />
<text x="524.20" y="345.74" font-size="9.5" font-family='"Liberation Sans", sans-serif' font-weight="normal" fill="#000" text-anchor="end" textLength="19.3" lengthAdjust="spacingAndGlyphs" >5080</text>
<line x1="526.70" y1="353.65" x2="532.20" y2="353.65" stroke="#000" stroke-width="1" />
<text x="524.20" y="357.15" font-size="9.5" font-family='"Liberation Sans", sans-serif' font-weight="normal" fill="#000" text-anchor="end" textLength="19.3" lengthAdjust="spacingAndGlyphs" >5070</text>
<line x1="526.70" y1="365.06" x2="532.20" y2="365.06" stroke="#000" stroke-width="1" />
<text x="524.20" y="368.56" font-size="9.5" font-family='"Liberation Sans", sans-serif' font-weight="normal" fill="#000" text-anchor="end" textLength="19.3" lengthAdjust="spacingAndGlyphs" >5060</text>
<line x1="526.70" y1="376.48" x2="532.20" y2="376.48" stroke="#000" stroke-width="1" />
<text x="524.20" y="379.98" font-size="9.5" font-family='"Liberation Sans", sans-serif' font-weight="normal" fill="#000" text-anchor="end" textLength="19.3" lengthAdjust="spacingAndGlyphs" >5050</text>
<line x1="526.70" y1="387.89" x2="532.20" y2="387.89" stroke="#000" stroke-width="1" />
<text x="524.20" y="391.39" font-size="9.5" font-family='"Liberation Sans", sans-serif' font-weight="normal" fill="#000" text-anchor="end" textLength="19.3" lengthAdjust="spacingAndGlyphs" >5040</text>
<line x1="526.70" y1="399.31" x2="532.20" y2="399.31" stroke="#000" stroke-width="1" />
<text x="524.20" y="402.81" font-size="9.5" font-family='"Liberation Sans", sans-serif' font-weight="normal" fill="#000" text-anchor="end" textLength="19.3" lengthAdjust="spacingAndGlyphs" >5030</text>
<line x1="526.70" y1="410.72" x2="532.20" y2="410.72" stroke="#000" stroke-width="1" />
<text x="524.20" y="414.22" font-size="9.5" font-family='"Liberation Sans", sans-serif' font-weight="normal" fill="#000" text-anchor="end" textLength="19.3" lengthAdjust="spacingAndGlyphs" >5020</text>
<line x1="526.70" y1="422.13" x2="532.20" y2="422.13" stroke="#000" stroke-width="1" />
<text x="524.20" y="425.63" font-size="9.5" font-family='"Liberation Sans", sans-serif' font-weight="normal" fill="#000" text-anchor="end" textLength="19.3" lengthAdjust="spacingAndGlyphs" >5010</text>
<line x1="526.70" y1="433.55" x2="532.20" y2="433.55" stroke="#000" stroke-width="1" />
<text x="524.20" y="437.05" font-size="9.5" font-family='"Liberation Sans", sans-serif' font-weight="normal" fill="#000" text-anchor="end" textLength="19.3" lengthAdjust="spacingAndGlyphs" >5000</text>
<line x1="526.70" y1="444.96" x2="532.20" y2="444.96" stroke="#000" stroke-width="1" />
<text x="524.20" y="448.46" font-size="9.5" font-family='"Liberation Sans", sans-serif' font-weight="normal" fill="#000" text-anchor="end" textLength="19.3" lengthAdjust="spacingAndGlyphs" >4990</text>
<line x1="526.70" y1="456.38" x2="532.20" y2="456.38" stroke="#000" stroke-width="1" />
<text x="524.20" y="459.88" font-size="9.5" font-family='"Liberation Sans", sans-serif' font-weight="normal" fill="#000" text-anchor="end" textLength="19.3" lengthAdjust="spacingAndGlyphs" >4980</text>
<line x1="526.70" y1="467.79" x2="532.20" y2="467.79" stroke="#000" stroke-width="1" />
<text x="524.20" y="471.29" font-size="9.5" font-family='"Liberation Sans", sans-serif' font-weight="normal" fill="#000" text-anchor="end" textLength="19.3" lengthAdjust="spacingAndGlyphs" >4970</text>
<line x1="526.70" y1="479.20" x2="532.20" y2="479.20" stroke="#000" stroke-width="1" />
<text x="524.20" y="482.70" font-size="9.5" font-family='"Liberation Sans", sans-serif' font-weight="normal" fill="#000" text-anchor="end" textLength="19.3" lengthAdjust="spacingAndGlyphs" >4960</text>
<line x1="526.70" y1="490.62" x2="532.20" y2="490.62" stroke="#000" stroke-width="1" />
<text x="524.20" y="494.12" font-size="9.5" font-family='"Liberation Sans", sans-serif' font-weight="normal" fill="#000" text-anchor="end" textLength="19.3" lengthAdjust="spacingAndGlyphs" >4950</text>
<line x1="526.70" y1="502.03" x2="532.20" y2="502.03" stroke="#000" stroke-width="1" />
<text x="524.20" y="505.53" font-size="9.5" font-family='"Liberation Sans", sans-serif' font-weight="normal" fill="#000" text-anchor="end" textLength="19.3" lengthAdjust="spacingAndGlyphs" >4940</text>
<line x1="526.70" y1="513.45" x2="532.20" y2="513.45" stroke="#000" stroke-width="1" />
<text x="524.20" y="516.95" font-size="9.5" font-family='"Liberation Sans", sans-serif' font-weight="normal" fill="#000" text-anchor="end" textLength="19.3" lengthAdjust="spacingAndGlyphs" >4930</text>
<line x1="526.70" y1="524.86" x2="532.20" y2="524.86" stroke="#000" stroke-width="1" />
<text x="524.20" y="528.36" font-size="9.5" font-family='"Liberation Sans", sans-serif' font-weight="normal" fill="#000" text-anchor="end" textLength="19.3" lengthAdjust="spacingAndGlyphs" >4920</text>
<line x1="526.70" y1="536.27" x2="532.20" y2="536.27" stroke="#000" stroke-width="1" />
<text x="524.20" y="539.77" font-size="9.5" font-family='"Liberation Sans", sans-serif' font-weight="normal" fill="#000" text-anchor="end" textLength="19.3" lengthAdjust="spacingAndGlyphs" >4910</text>
<line x1="526.70" y1="547.69" x2="532.20" y2="547.69" stroke="#000" stroke-width="1" />
<text x="524.20" y="551.19" font-size="9.5" font-family='"Liberation Sans", sans-serif' font-weight="normal" fill="#000" text-anchor="end" textLength="19.3" lengthAdjust="spacingAndGlyphs" >4900</text>
<line x1="526.70" y1="559.10" x2="532.20" y2="559.10" stroke="#000" stroke-width="1" />
<text x="524.20" y="562.60" font-size="9.5" font-family='"Liberation Sans", sans-serif' font-weight="normal" fill="#000" text-anchor="end" textLength="19.3" lengthAdjust="spacingAndGlyphs" >4890</text>
<line x1="526.70" y1="570.52" x2="532.20" y2="570.52" stroke="#000" stroke-width="1" />
<text x="524.20" y="574.02" font-size="9.5" font-family='"Liberation Sans", sans-serif' font-weight="normal" fill="#000" text-anchor="end" textLength="19.3" lengthAdjust="spacingAndGlyphs" >4880</text>
<line x1="526.70" y1="581.93" x2="532.20" y2="581.93" stroke="#000" stroke-width="1" />
<text x="524.20" y="585.43" font-size="9.5" font-family='"Liberation Sans", sans-serif' font-weight="normal" fill="#000" text-anchor="end" textLength="19.3" lengthAdjust="spacingAndGlyphs" >4870</text>
<line x1="526.70" y1="593.34" x2="532.20" y2="593.34" stroke="#000" stroke-width="1" />
<text x="524.20" y="596.84" font-size="9.5" font-family='"Liberation Sans", sans-serif' font-weight="normal" fill="#000" text-anchor="end" textLength="19.3" lengthAdjust="spacingAndGlyphs" >4860</text>
<line x1="526.70" y1="604.76" x2="532.20" y2="604.76" stroke="#000" stroke-width="1" />
<text x="524.20" y="608.26" font-size="9.5" font-family='"Liberation Sans", sans-serif' font-weight="normal" fill="#000" text-anchor="end" textLength="19.3" lengthAdjust="spacingAndGlyphs" >4850</text>
<line x1="526.70" y1="616.17" x2="532.20" y2="616.17" stroke="#000" stroke-width="1" />
<text x="524.20" y="619.67" font-size="9.5" font-family='"Liberation Sans", sans-serif' font-weight="normal" fill="#000" text-anchor="end" textLength="19.3" lengthAdjust="spacingAndGlyphs" >4840</text>
<line x1="526.70" y1="627.59" x2="532.20" y2="627.59" stroke="#000" stroke-width="1" />
<text x="524.20" y="631.09" font-size="9.5" font-family='"Liberation Sans", sans-serif' font-weight="normal" fill="#000" text-anchor="end" textLength="19.3" lengthAdjust="spacingAndGlyphs" >4830</text>
<line x1="526.70" y1="639.00" x2="532.20" y2="639.00" stroke="#000" stroke-width="1" />
<text x="524.20" y="642.50" font-size="9.5" font-family='"Liberation Sans", sans-serif' font-weight="normal" fill="#000" text-anchor="end" textLength="19.3" lengthAdjust="spacingAndGlyphs" >4820</text>
<line x1="532.20" y1="639.00" x2="532.20" y2="646.00" stroke="#000" stroke-width="1" />
<text x="532.20" y="658.00" font-size="13" font-family='"Liberation Sans", sans-serif' font-weight="normal" fill="#000" text-anchor="middle" textLength="6.75" lengthAdjust="spacingAndGlyphs" >0</text>
<line x1="699.70" y1="639.00" x2="699.70" y2="646.00" stroke="#000" stroke-width="1" />
<text x="699.70" y="658.00" font-size="13" font-family='"Liberation Sans", sans-serif' font-weight="normal" fill="#000" text-anchor="middle" textLength="33.75" lengthAdjust="spacingAndGlyphs" >20000</text>
<line x1="867.20" y1="639.00" x2="867.20" y2="646.00" stroke="#000" stroke-width="1" />
<text x="867.20" y="658.00" font-size="13" font-family='"Liberation Sans", sans-serif' font-weight="normal" fill="#000" text-anchor="middle" textLength="33.75" lengthAdjust="spacingAndGlyphs" >40000</text>
<rect x="531.90" y="74.61" width="16.12" height="4.55" fill="#00f800" />
<rect x="531.90" y="86.03" width="40.39" height="4.55" fill="#00f800" />
<rect x="531.90" y="97.44" width="16.62" height="4.55" fill="#00f800" />
<rect x="531.90" y="108.86" width="11.22" height="4.55" fill="#00f800" />
<rect x="531.90" y="120.27" width="14.62" height="4.55" fill="#00f800" />
<rect x="531.90" y="131.68" width="10.13" height="4.55" fill="#00f800" />
<rect x="531.90" y="143.10" width="55.26" height="4.55" fill="#00f800" />
<rect x="531.90" y="154.51" width="15.56" height="4.55" fill="#00f800" />
<rect x="531.90" y="165.93" width="143.96" height="4.55" fill="#00f800" />
<rect x="531.90" y="177.34" width="292.97" height="4.55" fill="#00f800" />
<rect x="531.90" y="188.75" width="152.40" height="4.55" fill="#00f800" />
<rect x="531.90" y="200.17" width="373.01" height="4.55" fill="#00f800" />
<rect x="531.90" y="211.58" width="19.32" height="4.55" fill="#00f800" />
<rect x="531.90" y="223.00" width="31.19" height="4.55" fill="#00f800" />
<rect x="531.90" y="234.41" width="20.01" height="4.55" fill="#00f800" />
<rect x="531.90" y="245.82" width="43.65" height="4.55" fill="#00f800" />
<rect x="531.90" y="257.24" width="59.28" height="4.55" fill="#00f800" />
<rect x="531.90" y="268.65" width="49.99" height="4.55" fill="#00f800" />
<rect x="531.90" y="280.07" width="27.21" height="4.55" fill="#00f800" />
<rect x="531.90" y="291.48" width="42.89" height="4.55" fill="#00f800" />
<rect x="531.90" y="302.89" width="18.24" height="4.55" fill="#00f800" />
<rect x="531.90" y="314.31" width="92.29" height="4.55" fill="#00f800" />
<rect x="531.90" y="325.72" width="21.05" height="4.55" fill="#00f800" />
<rect x="531.90" y="337.14" width="32.70" height="4.55" fill="#00f800" />
<rect x="531.90" y="348.55" width="18.34" height="4.55" fill="#00f800" />
<rect x="531.90" y="359.96" width="29.82" height="4.55" fill="#00f800" />
<rect x="531.90" y="371.38" width="82.96" height="4.55" fill="#00f800" />
<rect x="531.90" y="382.79" width="27.27" height="4.55" fill="#00f800" />
<rect x="531.90" y="394.21" width="13.98" height="4.55" fill="#00f800" />
<rect x="531.90" y="405.62" width="20.84" height="4.55" fill="#00f800" />
<rect x="531.90" y="417.03" width="26.83" height="4.55" fill="#00f800" />
<rect x="531.90" y="428.45" width="98.34" height="4.55" fill="#00f800" />
<rect x="531.90" y="439.86" width="16.67" height="4.55" fill="#00f800" />
<rect x="531.90" y="451.28" width="22.54" height="4.55" fill="#00f800" />
<rect x="531.90" y="462.69" width="21.53" height="4.55" fill="#00f800" />
<rect x="531.90" y="474.10" width="22.24" height="4.55" fill="#00f800" />
<rect x="531.90" y="485.52" width="63.99" height="4.55" fill="#00f800" />
<rect x="531.90" y="496.93" width="12.75" height="4.55" fill="#00f800" />
<rect x="531.90" y="508.35" width="8.02" height="4.55" fill="#00f800" />
<rect x="531.90" y="519.76" width="5.67" height="4.55" fill="#00f800" />
<rect x="531.90" y="531.17" width="6.73" height="4.55" fill="#00f800" />
<rect x="531.90" y="542.59" width="53.58" height="4.55" fill="#00f800" />
<rect x="531.90" y="554.00" width="5.66" height="4.55" fill="#00f800" />
<rect x="531.90" y="565.42" width="7.46" height="4.55" fill="#00f800" />
<rect x="531.90" y="576.83" width="10.10" height="4.55" fill="#00f800" />
<rect x="531.90" y="588.24" width="5.71" height="4.55" fill="#00f800" />
<rect x="531.90" y="599.66" width="59.90" height="4.55" fill="#00f800" />
<rect x="531.90" y="611.07" width="4.01" height="4.55" fill="#00f800" />
<rect x="531.90" y="622.49" width="3.77" height="4.55" fill="#00f800" />
<rect x="531.90" y="633.90" width="26.90" height="4.55" fill="#00f800" />
<text x="554.82" y="80.61" font-size="12" font-family='"Liberation Sans", sans-serif' font-weight="normal" fill="#000" text-anchor="start" textLength="23.2" lengthAdjust="spacingAndGlyphs" >1931</text>
<text x="579.09" y="92.03" font-size="12" font-family='"Liberation Sans", sans-serif' font-weight="normal" fill="#000" text-anchor="start" textLength="23.2" lengthAdjust="spacingAndGlyphs" >4837</text>
<text x="555.32" y="103.44" font-size="12" font-family='"Liberation Sans", sans-serif' font-weight="normal" fill="#000" text-anchor="start" textLength="23.2" lengthAdjust="spacingAndGlyphs" >1990</text>
<text x="549.92" y="114.86" font-size="12" font-family='"Liberation Sans", sans-serif' font-weight="normal" fill="#000" text-anchor="start" textLength="23.2" lengthAdjust="spacingAndGlyphs" >1344</text>
<text x="553.32" y="126.27" font-size="12" font-family='"Liberation Sans", sans-serif' font-weight="normal" fill="#000" text-anchor="start" textLength="23.2" lengthAdjust="spacingAndGlyphs" >1751</text>
<text x="548.83" y="137.68" font-size="12" font-family='"Liberation Sans", sans-serif' font-weight="normal" fill="#000" text-anchor="start" textLength="23.2" lengthAdjust="spacingAndGlyphs" >1213</text>
<text x="593.96" y="149.10" font-size="12" font-family='"Liberation Sans", sans-serif' font-weight="normal" fill="#000" text-anchor="start" textLength="23.2" lengthAdjust="spacingAndGlyphs" >6618</text>
<text x="554.26" y="160.51" font-size="12" font-family='"Liberation Sans", sans-serif' font-weight="normal" fill="#000" text-anchor="start" textLength="23.2" lengthAdjust="spacingAndGlyphs" >1864</text>
<text x="682.66" y="171.93" font-size="12" font-family='"Liberation Sans", sans-serif' font-weight="normal" fill="#000" text-anchor="start" textLength="29.15" lengthAdjust="spacingAndGlyphs" >17241</text>
<text x="831.67" y="183.34" font-size="12" font-family='"Liberation Sans", sans-serif' font-weight="normal" fill="#000" text-anchor="start" textLength="29.15" lengthAdjust="spacingAndGlyphs" >35086</text>
<text x="691.10" y="194.75" font-size="12" font-family='"Liberation Sans", sans-serif' font-weight="normal" fill="#000" text-anchor="start" textLength="29.15" lengthAdjust="spacingAndGlyphs" >18251</text>
<text x="911.71" y="206.17" font-size="12" font-family='"Liberation Sans", sans-serif' font-weight="normal" fill="#000" text-anchor="start" textLength="29.15" lengthAdjust="spacingAndGlyphs" >44672</text>
<text x="558.02" y="217.58" font-size="12" font-family='"Liberation Sans", sans-serif' font-weight="normal" fill="#000" text-anchor="start" textLength="23.2" lengthAdjust="spacingAndGlyphs" >2314</text>
<text x="569.89" y="229.00" font-size="12" font-family='"Liberation Sans", sans-serif' font-weight="normal" fill="#000" text-anchor="start" textLength="23.2" lengthAdjust="spacingAndGlyphs" >3735</text>
<text x="558.71" y="240.41" font-size="12" font-family='"Liberation Sans", sans-serif' font-weight="normal" fill="#000" text-anchor="start" textLength="23.2" lengthAdjust="spacingAndGlyphs" >2397</text>
<text x="582.35" y="251.82" font-size="12" font-family='"Liberation Sans", sans-serif' font-weight="normal" fill="#000" text-anchor="start" textLength="23.2" lengthAdjust="spacingAndGlyphs" >5227</text>
<text x="597.98" y="263.24" font-size="12" font-family='"Liberation Sans", sans-serif' font-weight="normal" fill="#000" text-anchor="start" textLength="23.2" lengthAdjust="spacingAndGlyphs" >7099</text>
<text x="588.69" y="274.65" font-size="12" font-family='"Liberation Sans", sans-serif' font-weight="normal" fill="#000" text-anchor="start" textLength="23.2" lengthAdjust="spacingAndGlyphs" >5987</text>
<text x="565.91" y="286.07" font-size="12" font-family='"Liberation Sans", sans-serif' font-weight="normal" fill="#000" text-anchor="start" textLength="23.2" lengthAdjust="spacingAndGlyphs" >3259</text>
<text x="581.59" y="297.48" font-size="12" font-family='"Liberation Sans", sans-serif' font-weight="normal" fill="#000" text-anchor="start" textLength="23.2" lengthAdjust="spacingAndGlyphs" >5137</text>
<text x="556.94" y="308.89" font-size="12" font-family='"Liberation Sans", sans-serif' font-weight="normal" fill="#000" text-anchor="start" textLength="23.2" lengthAdjust="spacingAndGlyphs" >2185</text>
<text x="630.99" y="320.31" font-size="12" font-family='"Liberation Sans", sans-serif' font-weight="normal" fill="#000" text-anchor="start" textLength="29.15" lengthAdjust="spacingAndGlyphs" >11053</text>
<text x="559.75" y="331.72" font-size="12" font-family='"Liberation Sans", sans-serif' font-weight="normal" fill="#000" text-anchor="start" textLength="23.2" lengthAdjust="spacingAndGlyphs" >2521</text>
<text x="571.40" y="343.14" font-size="12" font-family='"Liberation Sans", sans-serif' font-weight="normal" fill="#000" text-anchor="start" textLength="23.2" lengthAdjust="spacingAndGlyphs" >3916</text>
<text x="557.04" y="354.55" font-size="12" font-family='"Liberation Sans", sans-serif' font-weight="normal" fill="#000" text-anchor="start" textLength="23.2" lengthAdjust="spacingAndGlyphs" >2196</text>
<text x="568.52" y="365.96" font-size="12" font-family='"Liberation Sans", sans-serif' font-weight="normal" fill="#000" text-anchor="start" textLength="23.2" lengthAdjust="spacingAndGlyphs" >3571</text>
<text x="621.66" y="377.38" font-size="12" font-family='"Liberation Sans", sans-serif' font-weight="normal" fill="#000" text-anchor="start" textLength="23.2" lengthAdjust="spacingAndGlyphs" >9935</text>
<text x="565.97" y="388.79" font-size="12" font-family='"Liberation Sans", sans-serif' font-weight="normal" fill="#000" text-anchor="start" textLength="23.2" lengthAdjust="spacingAndGlyphs" >3266</text>
<text x="552.68" y="400.21" font-size="12" font-family='"Liberation Sans", sans-serif' font-weight="normal" fill="#000" text-anchor="start" textLength="23.2" lengthAdjust="spacingAndGlyphs" >1674</text>
<text x="559.54" y="411.62" font-size="12" font-family='"Liberation Sans", sans-serif' font-weight="normal" fill="#000" text-anchor="start" textLength="23.2" lengthAdjust="spacingAndGlyphs" >2496</text>
<text x="565.53" y="423.03" font-size="12" font-family='"Liberation Sans", sans-serif' font-weight="normal" fill="#000" text-anchor="start" textLength="23.2" lengthAdjust="spacingAndGlyphs" >3213</text>
<text x="637.04" y="434.45" font-size="12" font-family='"Liberation Sans", sans-serif' font-weight="normal" fill="#000" text-anchor="start" textLength="29.15" lengthAdjust="spacingAndGlyphs" >11777</text>
<text x="555.37" y="445.86" font-size="12" font-family='"Liberation Sans", sans-serif' font-weight="normal" fill="#000" text-anchor="start" textLength="23.2" lengthAdjust="spacingAndGlyphs" >1996</text>
<text x="561.24" y="457.28" font-size="12" font-family='"Liberation Sans", sans-serif' font-weight="normal" fill="#000" text-anchor="start" textLength="23.2" lengthAdjust="spacingAndGlyphs" >2699</text>
<text x="560.23" y="468.69" font-size="12" font-family='"Liberation Sans", sans-serif' font-weight="normal" fill="#000" text-anchor="start" textLength="23.2" lengthAdjust="spacingAndGlyphs" >2579</text>
<text x="560.94" y="480.10" font-size="12" font-family='"Liberation Sans", sans-serif' font-weight="normal" fill="#000" text-anchor="start" textLength="23.2" lengthAdjust="spacingAndGlyphs" >2664</text>
<text x="602.69" y="491.52" font-size="12" font-family='"Liberation Sans", sans-serif' font-weight="normal" fill="#000" text-anchor="start" textLength="23.2" lengthAdjust="spacingAndGlyphs" >7663</text>
<text x="551.45" y="502.93" font-size="12" font-family='"Liberation Sans", sans-serif' font-weight="normal" fill="#000" text-anchor="start" textLength="23.2" lengthAdjust="spacingAndGlyphs" >1527</text>
<text x="546.72" y="514.35" font-size="12" font-family='"Liberation Sans", sans-serif' font-weight="normal" fill="#000" text-anchor="start" textLength="17.25" lengthAdjust="spacingAndGlyphs" >961</text>
<text x="544.37" y="525.76" font-size="12" font-family='"Liberation Sans", sans-serif' font-weight="normal" fill="#000" text-anchor="start" textLength="17.25" lengthAdjust="spacingAndGlyphs" >679</text>
<text x="545.43" y="537.17" font-size="12" font-family='"Liberation Sans", sans-serif' font-weight="normal" fill="#000" text-anchor="start" textLength="17.25" lengthAdjust="spacingAndGlyphs" >806</text>
<text x="592.28" y="548.59" font-size="12" font-family='"Liberation Sans", sans-serif' font-weight="normal" fill="#000" text-anchor="start" textLength="23.2" lengthAdjust="spacingAndGlyphs" >6417</text>
<text x="544.36" y="560.00" font-size="12" font-family='"Liberation Sans", sans-serif' font-weight="normal" fill="#000" text-anchor="start" textLength="17.25" lengthAdjust="spacingAndGlyphs" >678</text>
<text x="546.16" y="571.42" font-size="12" font-family='"Liberation Sans", sans-serif' font-weight="normal" fill="#000" text-anchor="start" textLength="17.25" lengthAdjust="spacingAndGlyphs" >894</text>
<text x="548.80" y="582.83" font-size="12" font-family='"Liberation Sans", sans-serif' font-weight="normal" fill="#000" text-anchor="start" textLength="23.2" lengthAdjust="spacingAndGlyphs" >1210</text>
<text x="544.41" y="594.24" font-size="12" font-family='"Liberation Sans", sans-serif' font-weight="normal" fill="#000" text-anchor="start" textLength="17.25" lengthAdjust="spacingAndGlyphs" >684</text>
<text x="598.60" y="605.66" font-size="12" font-family='"Liberation Sans", sans-serif' font-weight="normal" fill="#000" text-anchor="start" textLength="23.2" lengthAdjust="spacingAndGlyphs" >7174</text>
<text x="542.71" y="617.07" font-size="12" font-family='"Liberation Sans", sans-serif' font-weight="normal" fill="#000" text-anchor="start" textLength="17.25" lengthAdjust="spacingAndGlyphs" >480</text>
<text x="542.47" y="628.49" font-size="12" font-family='"Liberation Sans", sans-serif' font-weight="normal" fill="#000" text-anchor="start" textLength="17.25" lengthAdjust="spacingAndGlyphs" >452</text>
<text x="565.60" y="639.90" font-size="12" font-family='"Liberation Sans", sans-serif' font-weight="normal" fill="#000" text-anchor="start" textLength="23.2" lengthAdjust="spacingAndGlyphs" >3221</text>
<rect x="531.50" y="90.68" width="1.10" height="4.45" fill="#c80000" />
<rect x="531.50" y="102.09" width="1.10" height="4.45" fill="#c80000" />
<rect x="531.50" y="124.92" width="1.10" height="4.45" fill="#c80000" />
<rect x="531.50" y="136.33" width="1.10" height="4.45" fill="#c80000" />
<rect x="531.90" y="147.75" width="1.68" height="4.45" fill="#f00000" />
<rect x="531.50" y="159.16" width="1.10" height="4.45" fill="#c80000" />
<rect x="531.50" y="170.58" width="1.10" height="4.45" fill="#c80000" />
<rect x="531.50" y="181.99" width="1.10" height="4.45" fill="#c80000" />
<rect x="531.50" y="193.40" width="1.10" height="4.45" fill="#c80000" />
<rect x="531.90" y="204.82" width="3.72" height="4.45" fill="#f00000" />
<rect x="531.90" y="216.23" width="1.01" height="4.45" fill="#f00000" />
<rect x="531.90" y="227.65" width="5.64" height="4.45" fill="#f00000" />
<rect x="531.90" y="239.06" width="1.71" height="4.45" fill="#f00000" />
<rect x="531.90" y="250.47" width="6.76" height="4.45" fill="#f00000" />
<rect x="531.90" y="261.89" width="7.39" height="4.45" fill="#f00000" />
<rect x="531.90" y="273.30" width="8.27" height="4.45" fill="#f00000" />
<rect x="531.90" y="284.72" width="12.55" height="4.45" fill="#f00000" />
<rect x="531.90" y="296.13" width="10.95" height="4.45" fill="#f00000" />
<rect x="531.90" y="307.54" width="10.64" height="4.45" fill="#f00000" />
<rect x="531.90" y="318.96" width="32.29" height="4.45" fill="#f00000" />
<rect x="531.90" y="330.37" width="17.69" height="4.45" fill="#f00000" />
<rect x="531.90" y="341.79" width="24.99" height="4.45" fill="#f00000" />
<rect x="531.90" y="353.20" width="14.60" height="4.45" fill="#f00000" />
<rect x="531.90" y="364.61" width="17.28" height="4.45" fill="#f00000" />
<rect x="531.90" y="376.03" width="48.98" height="4.45" fill="#f00000" />
<rect x="531.90" y="387.44" width="23.95" height="4.45" fill="#f00000" />
<rect x="531.90" y="398.86" width="15.11" height="4.45" fill="#f00000" />
<rect x="531.90" y="410.27" width="36.84" height="4.45" fill="#f00000" />
<rect x="531.90" y="421.68" width="22.23" height="4.45" fill="#f00000" />
<rect x="531.90" y="433.10" width="81.29" height="4.45" fill="#f00000" />
<rect x="531.90" y="444.51" width="23.25" height="4.45" fill="#f00000" />
<rect x="531.90" y="455.93" width="27.42" height="4.45" fill="#f00000" />
<rect x="531.90" y="467.34" width="37.17" height="4.45" fill="#f00000" />
<rect x="531.90" y="478.75" width="36.38" height="4.45" fill="#f00000" />
<rect x="531.90" y="490.17" width="117.08" height="4.45" fill="#f00000" />
<rect x="531.90" y="501.58" width="27.80" height="4.45" fill="#f00000" />
<rect x="531.90" y="513.00" width="21.50" height="4.45" fill="#f00000" />
<rect x="531.90" y="524.41" width="25.85" height="4.45" fill="#f00000" />
<rect x="531.90" y="535.82" width="27.73" height="4.45" fill="#f00000" />
<rect x="531.90" y="547.24" width="114.41" height="4.45" fill="#f00000" />
<rect x="531.90" y="558.65" width="29.62" height="4.45" fill="#f00000" />
<rect x="531.90" y="570.07" width="29.70" height="4.45" fill="#f00000" />
<rect x="531.90" y="581.48" width="29.33" height="4.45" fill="#f00000" />
<rect x="531.90" y="592.89" width="20.67" height="4.45" fill="#f00000" />
<rect x="531.90" y="604.31" width="84.74" height="4.45" fill="#f00000" />
<rect x="531.90" y="615.72" width="27.76" height="4.45" fill="#f00000" />
<rect x="531.90" y="627.14" width="28.52" height="4.45" fill="#f00000" />
<text x="539.70" y="96.83" font-size="12" font-family='"Liberation Sans", sans-serif' font-weight="normal" fill="#000" text-anchor="start" textLength="11.3" lengthAdjust="spacingAndGlyphs" >46</text>
<text x="539.70" y="108.24" font-size="12" font-family='"Liberation Sans", sans-serif' font-weight="normal" fill="#000" text-anchor="start" textLength="5.3500000000000005" lengthAdjust="spacingAndGlyphs" >1</text>
<text x="539.70" y="131.07" font-size="12" font-family='"Liberation Sans", sans-serif' font-weight="normal" fill="#000" text-anchor="start" textLength="5.3500000000000005" lengthAdjust="spacingAndGlyphs" >4</text>
<text x="539.70" y="142.48" font-size="12" font-family='"Liberation Sans", sans-serif' font-weight="normal" fill="#000" text-anchor="start" textLength="11.3" lengthAdjust="spacingAndGlyphs" >13</text>
<text x="540.38" y="153.90" font-size="12" font-family='"Liberation Sans", sans-serif' font-weight="normal" fill="#000" text-anchor="start" textLength="17.25" lengthAdjust="spacingAndGlyphs" >201</text>
<text x="539.70" y="165.31" font-size="12" font-family='"Liberation Sans", sans-serif' font-weight="normal" fill="#000" text-anchor="start" textLength="11.3" lengthAdjust="spacingAndGlyphs" >16</text>
<text x="539.70" y="176.73" font-size="12" font-family='"Liberation Sans", sans-serif' font-weight="normal" fill="#000" text-anchor="start" textLength="11.3" lengthAdjust="spacingAndGlyphs" >40</text>
<text x="539.70" y="188.14" font-size="12" font-family='"Liberation Sans", sans-serif' font-weight="normal" fill="#000" text-anchor="start" textLength="11.3" lengthAdjust="spacingAndGlyphs" >28</text>
<text x="539.70" y="199.55" font-size="12" font-family='"Liberation Sans", sans-serif' font-weight="normal" fill="#000" text-anchor="start" textLength="11.3" lengthAdjust="spacingAndGlyphs" >26</text>
<text x="542.42" y="210.97" font-size="12" font-family='"Liberation Sans", sans-serif' font-weight="normal" fill="#000" text-anchor="start" textLength="17.25" lengthAdjust="spacingAndGlyphs" >445</text>
<text x="539.71" y="222.38" font-size="12" font-family='"Liberation Sans", sans-serif' font-weight="normal" fill="#000" text-anchor="start" textLength="17.25" lengthAdjust="spacingAndGlyphs" >121</text>
<text x="544.34" y="233.80" font-size="12" font-family='"Liberation Sans", sans-serif' font-weight="normal" fill="#000" text-anchor="start" textLength="17.25" lengthAdjust="spacingAndGlyphs" >675</text>
<text x="540.41" y="245.21" font-size="12" font-family='"Liberation Sans", sans-serif' font-weight="normal" fill="#000" text-anchor="start" textLength="17.25" lengthAdjust="spacingAndGlyphs" >205</text>
<text x="545.46" y="256.62" font-size="12" font-family='"Liberation Sans", sans-serif' font-weight="normal" fill="#000" text-anchor="start" textLength="17.25" lengthAdjust="spacingAndGlyphs" >809</text>
<text x="546.09" y="268.04" font-size="12" font-family='"Liberation Sans", sans-serif' font-weight="normal" fill="#000" text-anchor="start" textLength="17.25" lengthAdjust="spacingAndGlyphs" >885</text>
<text x="546.97" y="279.45" font-size="12" font-family='"Liberation Sans", sans-serif' font-weight="normal" fill="#000" text-anchor="start" textLength="17.25" lengthAdjust="spacingAndGlyphs" >990</text>
<text x="551.25" y="290.87" font-size="12" font-family='"Liberation Sans", sans-serif' font-weight="normal" fill="#000" text-anchor="start" textLength="23.2" lengthAdjust="spacingAndGlyphs" >1503</text>
<text x="549.65" y="302.28" font-size="12" font-family='"Liberation Sans", sans-serif' font-weight="normal" fill="#000" text-anchor="start" textLength="23.2" lengthAdjust="spacingAndGlyphs" >1311</text>
<text x="549.34" y="313.69" font-size="12" font-family='"Liberation Sans", sans-serif' font-weight="normal" fill="#000" text-anchor="start" textLength="23.2" lengthAdjust="spacingAndGlyphs" >1274</text>
<text x="570.99" y="325.11" font-size="12" font-family='"Liberation Sans", sans-serif' font-weight="normal" fill="#000" text-anchor="start" textLength="23.2" lengthAdjust="spacingAndGlyphs" >3867</text>
<text x="556.39" y="336.52" font-size="12" font-family='"Liberation Sans", sans-serif' font-weight="normal" fill="#000" text-anchor="start" textLength="23.2" lengthAdjust="spacingAndGlyphs" >2119</text>
<text x="563.69" y="347.94" font-size="12" font-family='"Liberation Sans", sans-serif' font-weight="normal" fill="#000" text-anchor="start" textLength="23.2" lengthAdjust="spacingAndGlyphs" >2993</text>
<text x="553.30" y="359.35" font-size="12" font-family='"Liberation Sans", sans-serif' font-weight="normal" fill="#000" text-anchor="start" textLength="23.2" lengthAdjust="spacingAndGlyphs" >1749</text>
<text x="555.98" y="370.76" font-size="12" font-family='"Liberation Sans", sans-serif' font-weight="normal" fill="#000" text-anchor="start" textLength="23.2" lengthAdjust="spacingAndGlyphs" >2070</text>
<text x="587.68" y="382.18" font-size="12" font-family='"Liberation Sans", sans-serif' font-weight="normal" fill="#000" text-anchor="start" textLength="23.2" lengthAdjust="spacingAndGlyphs" >5866</text>
<text x="562.65" y="393.59" font-size="12" font-family='"Liberation Sans", sans-serif' font-weight="normal" fill="#000" text-anchor="start" textLength="23.2" lengthAdjust="spacingAndGlyphs" >2868</text>
<text x="553.81" y="405.01" font-size="12" font-family='"Liberation Sans", sans-serif' font-weight="normal" fill="#000" text-anchor="start" textLength="23.2" lengthAdjust="spacingAndGlyphs" >1809</text>
<text x="575.54" y="416.42" font-size="12" font-family='"Liberation Sans", sans-serif' font-weight="normal" fill="#000" text-anchor="start" textLength="23.2" lengthAdjust="spacingAndGlyphs" >4412</text>
<text x="560.93" y="427.83" font-size="12" font-family='"Liberation Sans", sans-serif' font-weight="normal" fill="#000" text-anchor="start" textLength="23.2" lengthAdjust="spacingAndGlyphs" >2662</text>
<text x="619.99" y="439.25" font-size="12" font-family='"Liberation Sans", sans-serif' font-weight="normal" fill="#000" text-anchor="start" textLength="23.2" lengthAdjust="spacingAndGlyphs" >9735</text>
<text x="561.95" y="450.66" font-size="12" font-family='"Liberation Sans", sans-serif' font-weight="normal" fill="#000" text-anchor="start" textLength="23.2" lengthAdjust="spacingAndGlyphs" >2784</text>
<text x="566.12" y="462.08" font-size="12" font-family='"Liberation Sans", sans-serif' font-weight="normal" fill="#000" text-anchor="start" textLength="23.2" lengthAdjust="spacingAndGlyphs" >3284</text>
<text x="575.87" y="473.49" font-size="12" font-family='"Liberation Sans", sans-serif' font-weight="normal" fill="#000" text-anchor="start" textLength="23.2" lengthAdjust="spacingAndGlyphs" >4451</text>
<text x="575.08" y="484.90" font-size="12" font-family='"Liberation Sans", sans-serif' font-weight="normal" fill="#000" text-anchor="start" textLength="23.2" lengthAdjust="spacingAndGlyphs" >4357</text>
<text x="655.78" y="496.32" font-size="12" font-family='"Liberation Sans", sans-serif' font-weight="normal" fill="#000" text-anchor="start" textLength="29.15" lengthAdjust="spacingAndGlyphs" >14021</text>
<text x="566.50" y="507.73" font-size="12" font-family='"Liberation Sans", sans-serif' font-weight="normal" fill="#000" text-anchor="start" textLength="23.2" lengthAdjust="spacingAndGlyphs" >3329</text>
<text x="560.20" y="519.15" font-size="12" font-family='"Liberation Sans", sans-serif' font-weight="normal" fill="#000" text-anchor="start" textLength="23.2" lengthAdjust="spacingAndGlyphs" >2575</text>
<text x="564.55" y="530.56" font-size="12" font-family='"Liberation Sans", sans-serif' font-weight="normal" fill="#000" text-anchor="start" textLength="23.2" lengthAdjust="spacingAndGlyphs" >3096</text>
<text x="566.43" y="541.97" font-size="12" font-family='"Liberation Sans", sans-serif' font-weight="normal" fill="#000" text-anchor="start" textLength="23.2" lengthAdjust="spacingAndGlyphs" >3321</text>
<text x="653.11" y="553.39" font-size="12" font-family='"Liberation Sans", sans-serif' font-weight="normal" fill="#000" text-anchor="start" textLength="29.15" lengthAdjust="spacingAndGlyphs" >13702</text>
<text x="568.32" y="564.80" font-size="12" font-family='"Liberation Sans", sans-serif' font-weight="normal" fill="#000" text-anchor="start" textLength="23.2" lengthAdjust="spacingAndGlyphs" >3547</text>
<text x="568.40" y="576.22" font-size="12" font-family='"Liberation Sans", sans-serif' font-weight="normal" fill="#000" text-anchor="start" textLength="23.2" lengthAdjust="spacingAndGlyphs" >3557</text>
<text x="568.03" y="587.63" font-size="12" font-family='"Liberation Sans", sans-serif' font-weight="normal" fill="#000" text-anchor="start" textLength="23.2" lengthAdjust="spacingAndGlyphs" >3512</text>
<text x="559.37" y="599.04" font-size="12" font-family='"Liberation Sans", sans-serif' font-weight="normal" fill="#000" text-anchor="start" textLength="23.2" lengthAdjust="spacingAndGlyphs" >2475</text>
<text x="623.44" y="610.46" font-size="12" font-family='"Liberation Sans", sans-serif' font-weight="normal" fill="#000" text-anchor="start" textLength="29.15" lengthAdjust="spacingAndGlyphs" >10148</text>
<text x="566.46" y="621.87" font-size="12" font-family='"Liberation Sans", sans-serif' font-weight="normal" fill="#000" text-anchor="start" textLength="23.2" lengthAdjust="spacingAndGlyphs" >3325</text>
<text x="567.22" y="633.29" font-size="12" font-family='"Liberation Sans", sans-serif' font-weight="normal" fill="#000" text-anchor="start" textLength="23.2" lengthAdjust="spacingAndGlyphs" >3416</text>
<line x1="532.20" y1="329.10" x2="950.00" y2="329.10" stroke="#666" stroke-width="1.8" />
<text x="45.10" y="692.85" font-size="15" font-family='"Liberation Serif", serif' font-weight="normal" fill="#000" text-anchor="start" textLength="379.7" lengthAdjust="spacingAndGlyphs"  class="s">DIFF. OPEN INTEREST TRA IL 04/03/2024 E 05/03/2024</text>
<text x="575.40" y="692.85" font-size="15" font-family='"Liberation Serif", serif' font-weight="normal" fill="#000" text-anchor="start" textLength="298.5" lengthAdjust="spacingAndGlyphs"  class="s">OPEN INTEREST OPTIONS DEL 05/03/2024</text>
<text x="1074.40" y="692.85" font-size="15" font-family='"Liberation Serif", serif' font-weight="normal" fill="#000" text-anchor="start" textLength="281.5" lengthAdjust="spacingAndGlyphs"  class="s">OPEN INTEREST FUTURE AL 05/03/2024</text>
<line x1="1052.00" y1="48.90" x2="1074.00" y2="48.90" stroke="#f08a60" stroke-width="1.8" />
<text x="1079.60" y="53.50" font-size="11.5" font-family='"Liberation Sans", sans-serif' font-weight="normal" fill="#000" text-anchor="start" textLength="23.92" lengthAdjust="spacingAndGlyphs" >DS-2</text>
<line x1="1121.00" y1="48.90" x2="1143.00" y2="48.90" stroke="#e00000" stroke-width="1.8" />
<text x="1148.70" y="53.50" font-size="11.5" font-family='"Liberation Sans", sans-serif' font-weight="normal" fill="#000" text-anchor="start" textLength="23.92" lengthAdjust="spacingAndGlyphs" >DS-1</text>
<line x1="1190.00" y1="48.90" x2="1212.00" y2="48.90" stroke="#10e010" stroke-width="1.8" />
<text x="1217.80" y="53.50" font-size="11.5" font-family='"Liberation Sans", sans-serif' font-weight="normal" fill="#000" text-anchor="start" textLength="26.56" lengthAdjust="spacingAndGlyphs" >DS+1</text>
<line x1="1259.00" y1="48.90" x2="1281.00" y2="48.90" stroke="#007000" stroke-width="1.8" />
<text x="1286.50" y="53.50" font-size="11.5" font-family='"Liberation Sans", sans-serif' font-weight="normal" fill="#000" text-anchor="start" textLength="26.56" lengthAdjust="spacingAndGlyphs" >DS+2</text>
<line x1="1328.00" y1="48.90" x2="1350.00" y2="48.90" stroke="#000" stroke-width="1.8" stroke-dasharray="5,3"/>
<text x="1355.00" y="53.50" font-size="11.5" font-family='"Liberation Sans", sans-serif' font-weight="normal" fill="#000" text-anchor="start" textLength="25.27" lengthAdjust="spacingAndGlyphs" >PrzTr</text>
<line x1="988.00" y1="71.80" x2="1414.50" y2="71.80" stroke="#111" stroke-width="1" />
<text x="1416.80" y="75.30" font-size="11.5" font-family='"Liberation Sans", sans-serif' font-weight="normal" fill="#000" text-anchor="start" textLength="23.4" lengthAdjust="spacingAndGlyphs" >5300</text>
<line x1="988.00" y1="85.46" x2="1414.50" y2="85.46" stroke="#111" stroke-width="1" />
<text x="1416.80" y="88.96" font-size="11.5" font-family='"Liberation Sans", sans-serif' font-weight="normal" fill="#000" text-anchor="start" textLength="23.4" lengthAdjust="spacingAndGlyphs" >5280</text>
<line x1="988.00" y1="99.12" x2="1414.50" y2="99.12" stroke="#111" stroke-width="1" />
<text x="1416.80" y="102.62" font-size="11.5" font-family='"Liberation Sans", sans-serif' font-weight="normal" fill="#000" text-anchor="start" textLength="23.4" lengthAdjust="spacingAndGlyphs" >5260</text>
<line x1="988.00" y1="112.78" x2="1414.50" y2="112.78" stroke="#111" stroke-width="1" />
<text x="1416.80" y="116.28" font-size="11.5" font-family='"Liberation Sans", sans-serif' font-weight="normal" fill="#000" text-anchor="start" textLength="23.4" lengthAdjust="spacingAndGlyphs" >5240</text>
<line x1="988.00" y1="126.44" x2="1414.50" y2="126.44" stroke="#111" stroke-width="1" />
<text x="1416.80" y="129.94" font-size="11.5" font-family='"Liberation Sans", sans-serif' font-weight="normal" fill="#000" text-anchor="start" textLength="23.4" lengthAdjust="spacingAndGlyphs" >5220</text>
<line x1="988.00" y1="140.10" x2="1414.50" y2="140.10" stroke="#111" stroke-width="1" />
<text x="1416.80" y="143.60" font-size="11.5" font-family='"Liberation Sans", sans-serif' font-weight="normal" fill="#000" text-anchor="start" textLength="23.4" lengthAdjust="spacingAndGlyphs" >5200</text>
<line x1="988.00" y1="153.76" x2="1414.50" y2="153.76" stroke="#111" stroke-width="1" />
<text x="1416.80" y="157.26" font-size="11.5" font-family='"Liberation Sans", sans-serif' font-weight="normal" fill="#000" text-anchor="start" textLength="23.4" lengthAdjust="spacingAndGlyphs" >5180</text>
<line x1="988.00" y1="167.42" x2="1414.50" y2="167.42" stroke="#111" stroke-width="1" />
<text x="1416.80" y="170.92" font-size="11.5" font-family='"Liberation Sans", sans-serif' font-weight="normal" fill="#000" text-anchor="start" textLength="23.4" lengthAdjust="spacingAndGlyphs" >5160</text>
<line x1="988.00" y1="181.08" x2="1414.50" y2="181.08" stroke="#111" stroke-width="1" />
<text x="1416.80" y="184.58" font-size="11.5" font-family='"Liberation Sans", sans-serif' font-weight="normal" fill="#000" text-anchor="start" textLength="23.4" lengthAdjust="spacingAndGlyphs" >5140</text>
<line x1="988.00" y1="194.74" x2="1414.50" y2="194.74" stroke="#111" stroke-width="1" />
<text x="1416.80" y="198.24" font-size="11.5" font-family='"Liberation Sans", sans-serif' font-weight="normal" fill="#000" text-anchor="start" textLength="23.4" lengthAdjust="spacingAndGlyphs" >5120</text>
<line x1="988.00" y1="208.40" x2="1414.50" y2="208.40" stroke="#111" stroke-width="1" />
<text x="1416.80" y="211.90" font-size="11.5" font-family='"Liberation Sans", sans-serif' font-weight="normal" fill="#000" text-anchor="start" textLength="23.4" lengthAdjust="spacingAndGlyphs" >5100</text>
<line x1="988.00" y1="222.06" x2="1414.50" y2="222.06" stroke="#111" stroke-width="1" />
<text x="1416.80" y="225.56" font-size="11.5" font-family='"Liberation Sans", sans-serif' font-weight="normal" fill="#000" text-anchor="start" textLength="23.4" lengthAdjust="spacingAndGlyphs" >5080</text>
<line x1="988.00" y1="235.72" x2="1414.50" y2="235.72" stroke="#111" stroke-width="1" />
<text x="1416.80" y="239.22" font-size="11.5" font-family='"Liberation Sans", sans-serif' font-weight="normal" fill="#000" text-anchor="start" textLength="23.4" lengthAdjust="spacingAndGlyphs" >5060</text>
<line x1="988.00" y1="249.38" x2="1414.50" y2="249.38" stroke="#111" stroke-width="1" />
<text x="1416.80" y="252.88" font-size="11.5" font-family='"Liberation Sans", sans-serif' font-weight="normal" fill="#000" text-anchor="start" textLength="23.4" lengthAdjust="spacingAndGlyphs" >5040</text>
<line x1="988.00" y1="263.04" x2="1414.50" y2="263.04" stroke="#111" stroke-width="1" />
<text x="1416.80" y="266.54" font-size="11.5" font-family='"Liberation Sans", sans-serif' font-weight="normal" fill="#000" text-anchor="start" textLength="23.4" lengthAdjust="spacingAndGlyphs" >5020</text>
<line x1="988.00" y1="276.70" x2="1414.50" y2="276.70" stroke="#111" stroke-width="1" />
<text x="1416.80" y="280.20" font-size="11.5" font-family='"Liberation Sans", sans-serif' font-weight="normal" fill="#000" text-anchor="start" textLength="23.4" lengthAdjust="spacingAndGlyphs" >5000</text>
<line x1="988.00" y1="290.36" x2="1414.50" y2="290.36" stroke="#111" stroke-width="1" />
<text x="1416.80" y="293.86" font-size="11.5" font-family='"Liberation Sans", sans-serif' font-weight="normal" fill="#000" text-anchor="start" textLength="23.4" lengthAdjust="spacingAndGlyphs" >4980</text>
<line x1="988.00" y1="304.02" x2="1414.50" y2="304.02" stroke="#111" stroke-width="1" />
<text x="1416.80" y="307.52" font-size="11.5" font-family='"Liberation Sans", sans-serif' font-weight="normal" fill="#000" text-anchor="start" textLength="23.4" lengthAdjust="spacingAndGlyphs" >4960</text>
<line x1="988.00" y1="317.68" x2="1414.50" y2="317.68" stroke="#111" stroke-width="1" />
<text x="1416.80" y="321.18" font-size="11.5" font-family='"Liberation Sans", sans-serif' font-weight="normal" fill="#000" text-anchor="start" textLength="23.4" lengthAdjust="spacingAndGlyphs" >4940</text>
<line x1="988.00" y1="331.34" x2="1414.50" y2="331.34" stroke="#111" stroke-width="1" />
<text x="1416.80" y="334.84" font-size="11.5" font-family='"Liberation Sans", sans-serif' font-weight="normal" fill="#000" text-anchor="start" textLength="23.4" lengthAdjust="spacingAndGlyphs" >4920</text>
<line x1="988.00" y1="345.00" x2="1414.50" y2="345.00" stroke="#111" stroke-width="1" />
<text x="1416.80" y="348.50" font-size="11.5" font-family='"Liberation Sans", sans-serif' font-weight="normal" fill="#000" text-anchor="start" textLength="23.4" lengthAdjust="spacingAndGlyphs" >4900</text>
<line x1="988.00" y1="358.66" x2="1414.50" y2="358.66" stroke="#111" stroke-width="1" />
<text x="1416.80" y="362.16" font-size="11.5" font-family='"Liberation Sans", sans-serif' font-weight="normal" fill="#000" text-anchor="start" textLength="23.4" lengthAdjust="spacingAndGlyphs" >4880</text>
<line x1="988.00" y1="372.32" x2="1414.50" y2="372.32" stroke="#111" stroke-width="1" />
<text x="1416.80" y="375.82" font-size="11.5" font-family='"Liberation Sans", sans-serif' font-weight="normal" fill="#000" text-anchor="start" textLength="23.4" lengthAdjust="spacingAndGlyphs" >4860</text>
<line x1="988.00" y1="385.98" x2="1414.50" y2="385.98" stroke="#111" stroke-width="1" />
<text x="1416.80" y="389.48" font-size="11.5" font-family='"Liberation Sans", sans-serif' font-weight="normal" fill="#000" text-anchor="start" textLength="23.4" lengthAdjust="spacingAndGlyphs" >4840</text>
<line x1="988.00" y1="399.64" x2="1414.50" y2="399.64" stroke="#111" stroke-width="1" />
<text x="1416.80" y="403.14" font-size="11.5" font-family='"Liberation Sans", sans-serif' font-weight="normal" fill="#000" text-anchor="start" textLength="23.4" lengthAdjust="spacingAndGlyphs" >4820</text>
<line x1="988.00" y1="413.30" x2="1414.50" y2="413.30" stroke="#111" stroke-width="1" />
<text x="1416.80" y="416.80" font-size="11.5" font-family='"Liberation Sans", sans-serif' font-weight="normal" fill="#000" text-anchor="start" textLength="23.4" lengthAdjust="spacingAndGlyphs" >4800</text>
<line x1="988.50" y1="413.30" x2="988.50" y2="420.30" stroke="#000" stroke-width="1" />
<line x1="1414.50" y1="413.30" x2="1414.50" y2="420.30" stroke="#000" stroke-width="1" />
<line x1="1007.40" y1="413.30" x2="1007.40" y2="420.30" stroke="#000" stroke-width="1" />
<text transform="translate(1009.40,473.2) rotate(-90)" font-size="11" font-family='"Liberation Sans", sans-serif' textLength="50.4" lengthAdjust="spacingAndGlyphs">05/02/2024</text>
<line x1="1025.88" y1="413.30" x2="1025.88" y2="420.30" stroke="#000" stroke-width="1" />
<text transform="translate(1027.88,473.2) rotate(-90)" font-size="11" font-family='"Liberation Sans", sans-serif' textLength="50.4" lengthAdjust="spacingAndGlyphs">06/02/2024</text>
<line x1="1044.36" y1="413.30" x2="1044.36" y2="420.30" stroke="#000" stroke-width="1" />
<text transform="translate(1046.36,473.2) rotate(-90)" font-size="11" font-family='"Liberation Sans", sans-serif' textLength="50.4" lengthAdjust="spacingAndGlyphs">07/02/2024</text>
<line x1="1062.84" y1="413.30" x2="1062.84" y2="420.30" stroke="#000" stroke-width="1" />
<text transform="translate(1064.84,473.2) rotate(-90)" font-size="11" font-family='"Liberation Sans", sans-serif' textLength="50.4" lengthAdjust="spacingAndGlyphs">08/02/2024</text>
<line x1="1081.32" y1="413.30" x2="1081.32" y2="420.30" stroke="#000" stroke-width="1" />
<text transform="translate(1083.32,473.2) rotate(-90)" font-size="11" font-family='"Liberation Sans", sans-serif' textLength="50.4" lengthAdjust="spacingAndGlyphs">09/02/2024</text>
<line x1="1099.80" y1="413.30" x2="1099.80" y2="420.30" stroke="#000" stroke-width="1" />
<text transform="translate(1101.80,473.2) rotate(-90)" font-size="11" font-family='"Liberation Sans", sans-serif' textLength="50.4" lengthAdjust="spacingAndGlyphs">12/02/2024</text>
<line x1="1118.28" y1="413.30" x2="1118.28" y2="420.30" stroke="#000" stroke-width="1" />
<text transform="translate(1120.28,473.2) rotate(-90)" font-size="11" font-family='"Liberation Sans", sans-serif' textLength="50.4" lengthAdjust="spacingAndGlyphs">13/02/2024</text>
<line x1="1136.76" y1="413.30" x2="1136.76" y2="420.30" stroke="#000" stroke-width="1" />
<text transform="translate(1138.76,473.2) rotate(-90)" font-size="11" font-family='"Liberation Sans", sans-serif' textLength="50.4" lengthAdjust="spacingAndGlyphs">14/02/2024</text>
<line x1="1155.24" y1="413.30" x2="1155.24" y2="420.30" stroke="#000" stroke-width="1" />
<text transform="translate(1157.24,473.2) rotate(-90)" font-size="11" font-family='"Liberation Sans", sans-serif' textLength="50.4" lengthAdjust="spacingAndGlyphs">15/02/2024</text>
<line x1="1173.72" y1="413.30" x2="1173.72" y2="420.30" stroke="#000" stroke-width="1" />
<text transform="translate(1175.72,473.2) rotate(-90)" font-size="11" font-family='"Liberation Sans", sans-serif' textLength="50.4" lengthAdjust="spacingAndGlyphs">16/02/2024</text>
<line x1="1192.20" y1="413.30" x2="1192.20" y2="420.30" stroke="#000" stroke-width="1" />
<text transform="translate(1194.20,473.2) rotate(-90)" font-size="11" font-family='"Liberation Sans", sans-serif' textLength="50.4" lengthAdjust="spacingAndGlyphs">19/02/2024</text>
<line x1="1210.68" y1="413.30" x2="1210.68" y2="420.30" stroke="#000" stroke-width="1" />
<text transform="translate(1212.68,473.2) rotate(-90)" font-size="11" font-family='"Liberation Sans", sans-serif' textLength="50.4" lengthAdjust="spacingAndGlyphs">20/02/2024</text>
<line x1="1229.16" y1="413.30" x2="1229.16" y2="420.30" stroke="#000" stroke-width="1" />
<text transform="translate(1231.16,473.2) rotate(-90)" font-size="11" font-family='"Liberation Sans", sans-serif' textLength="50.4" lengthAdjust="spacingAndGlyphs">21/02/2024</text>
<line x1="1247.64" y1="413.30" x2="1247.64" y2="420.30" stroke="#000" stroke-width="1" />
<text transform="translate(1249.64,473.2) rotate(-90)" font-size="11" font-family='"Liberation Sans", sans-serif' textLength="50.4" lengthAdjust="spacingAndGlyphs">22/02/2024</text>
<line x1="1266.12" y1="413.30" x2="1266.12" y2="420.30" stroke="#000" stroke-width="1" />
<text transform="translate(1268.12,473.2) rotate(-90)" font-size="11" font-family='"Liberation Sans", sans-serif' textLength="50.4" lengthAdjust="spacingAndGlyphs">23/02/2024</text>
<line x1="1284.60" y1="413.30" x2="1284.60" y2="420.30" stroke="#000" stroke-width="1" />
<text transform="translate(1286.60,473.2) rotate(-90)" font-size="11" font-family='"Liberation Sans", sans-serif' textLength="50.4" lengthAdjust="spacingAndGlyphs">26/02/2024</text>
<line x1="1303.08" y1="413.30" x2="1303.08" y2="420.30" stroke="#000" stroke-width="1" />
<text transform="translate(1305.08,473.2) rotate(-90)" font-size="11" font-family='"Liberation Sans", sans-serif' textLength="50.4" lengthAdjust="spacingAndGlyphs">27/02/2024</text>
<line x1="1321.56" y1="413.30" x2="1321.56" y2="420.30" stroke="#000" stroke-width="1" />
<text transform="translate(1323.56,473.2) rotate(-90)" font-size="11" font-family='"Liberation Sans", sans-serif' textLength="50.4" lengthAdjust="spacingAndGlyphs">28/02/2024</text>
<line x1="1340.04" y1="413.30" x2="1340.04" y2="420.30" stroke="#000" stroke-width="1" />
<text transform="translate(1342.04,473.2) rotate(-90)" font-size="11" font-family='"Liberation Sans", sans-serif' textLength="50.4" lengthAdjust="spacingAndGlyphs">29/02/2024</text>
<line x1="1358.52" y1="413.30" x2="1358.52" y2="420.30" stroke="#000" stroke-width="1" />
<text transform="translate(1360.52,473.2) rotate(-90)" font-size="11" font-family='"Liberation Sans", sans-serif' textLength="50.4" lengthAdjust="spacingAndGlyphs">01/03/2024</text>
<line x1="1377.00" y1="413.30" x2="1377.00" y2="420.30" stroke="#000" stroke-width="1" />
<text transform="translate(1379.00,473.2) rotate(-90)" font-size="11" font-family='"Liberation Sans", sans-serif' textLength="50.4" lengthAdjust="spacingAndGlyphs">04/03/2024</text>
<line x1="1395.48" y1="413.30" x2="1395.48" y2="420.30" stroke="#000" stroke-width="1" />
<text transform="translate(1397.48,473.2) rotate(-90)" font-size="11" font-family='"Liberation Sans", sans-serif' textLength="50.4" lengthAdjust="spacingAndGlyphs">05/03/2024</text>
<rect x="986.00" y="204.50" width="54.00" height="17.00" fill="#fff" />
<text x="991.60" y="218.22" font-size="12" font-family='"Liberation Sans", sans-serif' font-weight="bold" fill="#000" text-anchor="start" textLength="42.3" lengthAdjust="spacingAndGlyphs" >5091.25</text>
<line x1="1041.00" y1="214.90" x2="1414.50" y2="214.90" stroke="#555" stroke-width="1.2" stroke-dasharray="2.5,1.8"/>
<text x="1405.70" y="229.08" font-size="10.5" font-family='"Liberation Sans", sans-serif' font-weight="normal" fill="#000" text-anchor="start" >+40</text>
<text x="1405.70" y="112.78" font-size="10.5" font-family='"Liberation Sans", sans-serif' font-weight="normal" fill="#000" text-anchor="start" >+80</text>
<line x1="1007.40" y1="289.70" x2="1007.40" y2="319.60" stroke="#000" stroke-width="1" />
<rect x="999.80" y="293.50" width="15.2" height="10.70" fill="#ee0000" stroke="#000" stroke-width="1"/>
<line x1="1025.88" y1="291.50" x2="1025.88" y2="308.60" stroke="#000" stroke-width="1" />
<rect x="1018.28" y="295.30" width="15.2" height="8.90" fill="#00ee00" stroke="#000" stroke-width="1"/>
<line x1="1044.36" y1="263.40" x2="1044.36" y2="297.90" stroke="#000" stroke-width="1" />
<rect x="1036.76" y="266.00" width="15.2" height="30.60" fill="#00ee00" stroke="#000" stroke-width="1"/>
<line x1="1062.84" y1="263.40" x2="1062.84" y2="274.90" stroke="#000" stroke-width="1" />
<line x1="1055.34" y1="266.00" x2="1070.34" y2="266.00" stroke="#000" stroke-width="1" />
<line x1="1081.32" y1="243.00" x2="1081.32" y2="268.50" stroke="#000" stroke-width="1" />
<rect x="1073.72" y="248.00" width="15.2" height="19.20" fill="#00ee00" stroke="#000" stroke-width="1"/>
<line x1="1099.80" y1="231.50" x2="1099.80" y2="256.50" stroke="#000" stroke-width="1" />
<rect x="1092.20" y="248.00" width="15.2" height="5.20" fill="#ee0000" stroke="#000" stroke-width="1"/>
<line x1="1118.28" y1="249.90" x2="1118.28" y2="320.30" stroke="#000" stroke-width="1" />
<rect x="1110.68" y="253.70" width="15.2" height="41.60" fill="#ee0000" stroke="#000" stroke-width="1"/>
<line x1="1136.76" y1="260.80" x2="1136.76" y2="299.00" stroke="#000" stroke-width="1" />
<rect x="1129.16" y="265.20" width="15.2" height="29.30" fill="#00ee00" stroke="#000" stroke-width="1"/>
<line x1="1155.24" y1="240.40" x2="1155.24" y2="269.80" stroke="#000" stroke-width="1" />
<rect x="1147.64" y="242.20" width="15.2" height="23.00" fill="#00ee00" stroke="#000" stroke-width="1"/>
<line x1="1173.72" y1="236.60" x2="1173.72" y2="268.50" stroke="#000" stroke-width="1" />
<rect x="1166.12" y="243.00" width="15.2" height="24.20" fill="#ee0000" stroke="#000" stroke-width="1"/>
<line x1="1210.68" y1="255.90" x2="1210.68" y2="298.80" stroke="#000" stroke-width="1" />
<rect x="1203.08" y="265.40" width="15.2" height="19.10" fill="#ee0000" stroke="#000" stroke-width="1"/>
<line x1="1229.16" y1="264.30" x2="1229.16" y2="305.20" stroke="#000" stroke-width="1" />
<rect x="1221.56" y="264.30" width="15.2" height="18.90" fill="#00ee00" stroke="#000" stroke-width="1"/>
<line x1="1247.64" y1="203.10" x2="1247.64" y2="266.40" stroke="#000" stroke-width="1" />
<rect x="1240.04" y="212.50" width="15.2" height="53.90" fill="#00ee00" stroke="#000" stroke-width="1"/>
<line x1="1266.12" y1="192.60" x2="1266.12" y2="215.10" stroke="#000" stroke-width="1" />
<line x1="1258.62" y1="211.80" x2="1273.62" y2="211.80" stroke="#000" stroke-width="1" />
<line x1="1284.60" y1="203.00" x2="1284.60" y2="225.80" stroke="#000" stroke-width="1" />
<rect x="1277.00" y="211.80" width="15.2" height="12.70" fill="#ee0000" stroke="#000" stroke-width="1"/>
<line x1="1303.08" y1="213.80" x2="1303.08" y2="231.70" stroke="#000" stroke-width="1" />
<rect x="1295.48" y="215.60" width="15.2" height="8.90" fill="#00ee00" stroke="#000" stroke-width="1"/>
<line x1="1321.56" y1="215.10" x2="1321.56" y2="234.20" stroke="#000" stroke-width="1" />
<rect x="1313.96" y="215.10" width="15.2" height="14.00" fill="#ee0000" stroke="#000" stroke-width="1"/>
<line x1="1340.04" y1="198.00" x2="1340.04" y2="234.20" stroke="#000" stroke-width="1" />
<rect x="1332.44" y="208.20" width="15.2" height="20.20" fill="#00ee00" stroke="#000" stroke-width="1"/>
<line x1="1358.52" y1="174.20" x2="1358.52" y2="216.40" stroke="#000" stroke-width="1" />
<rect x="1350.92" y="181.90" width="15.2" height="25.50" fill="#00ee00" stroke="#000" stroke-width="1"/>
<line x1="1377.00" y1="168.60" x2="1377.00" y2="187.80" stroke="#000" stroke-width="1" />
<rect x="1369.40" y="179.40" width="15.2" height="5.80" fill="#ee0000" stroke="#000" stroke-width="1"/>
<line x1="1395.48" y1="184.50" x2="1395.48" y2="234.20" stroke="#000" stroke-width="1" />
<rect x="1387.88" y="185.20" width="15.2" height="29.40" fill="#ee0000" stroke="#000" stroke-width="1"/>
<line x1="988.00" y1="119.61" x2="1414.50" y2="119.61" stroke="#0000d0" stroke-width="3" />
<line x1="988.00" y1="235.72" x2="1414.50" y2="235.72" stroke="#0000d0" stroke-width="3" />
<line x1="988.30" y1="525.70" x2="1415.00" y2="525.70" stroke="#444" stroke-width="1" />
<line x1="988.30" y1="554.90" x2="1415.00" y2="554.90" stroke="#222" stroke-width="1" />
<line x1="988.30" y1="585.70" x2="1415.00" y2="585.70" stroke="#444" stroke-width="1" />
<line x1="988.30" y1="616.40" x2="1415.00" y2="616.40" stroke="#222" stroke-width="1" />
<line x1="988.30" y1="646.30" x2="1415.00" y2="646.30" stroke="#444" stroke-width="1" />
<rect x="999.55" y="627.20" width="14.70" height="46.30" fill="#008000" stroke="#006800" stroke-width="0.6"/>
<rect x="1018.03" y="634.90" width="14.70" height="38.60" fill="#008000" stroke="#006800" stroke-width="0.6"/>
<rect x="1036.51" y="595.00" width="14.70" height="78.50" fill="#008000" stroke="#006800" stroke-width="0.6"/>
<rect x="1054.99" y="593.70" width="14.70" height="79.80" fill="#008000" stroke="#006800" stroke-width="0.6"/>
<rect x="1073.47" y="560.60" width="14.70" height="112.90" fill="#008000" stroke="#006800" stroke-width="0.6"/>
<rect x="1091.95" y="547.20" width="14.70" height="126.30" fill="#008000" stroke="#006800" stroke-width="0.6"/>
<rect x="1110.43" y="607.00" width="14.70" height="66.50" fill="#008000" stroke="#006800" stroke-width="0.6"/>
<rect x="1128.91" y="615.70" width="14.70" height="57.80" fill="#008000" stroke="#006800" stroke-width="0.6"/>
<rect x="1147.39" y="596.60" width="14.70" height="76.90" fill="#008000" stroke="#006800" stroke-width="0.6"/>
<rect x="1165.87" y="612.70" width="14.70" height="60.80" fill="#008000" stroke="#006800" stroke-width="0.6"/>
<rect x="1184.35" y="612.70" width="14.70" height="60.80" fill="#008000" stroke="#006800" stroke-width="0.6"/>
<rect x="1202.83" y="640.40" width="14.70" height="33.10" fill="#008000" stroke="#006800" stroke-width="0.6"/>
<rect x="1221.31" y="660.30" width="14.70" height="13.20" fill="#008000" stroke="#006800" stroke-width="0.6"/>
<rect x="1239.79" y="604.00" width="14.70" height="69.50" fill="#008000" stroke="#006800" stroke-width="0.6"/>
<rect x="1258.27" y="595.70" width="14.70" height="77.80" fill="#008000" stroke="#006800" stroke-width="0.6"/>
<rect x="1276.75" y="624.90" width="14.70" height="48.60" fill="#008000" stroke="#006800" stroke-width="0.6"/>
<rect x="1295.23" y="626.10" width="14.70" height="47.40" fill="#008000" stroke="#006800" stroke-width="0.6"/>
<rect x="1313.71" y="644.90" width="14.70" height="28.60" fill="#008000" stroke="#006800" stroke-width="0.6"/>
<rect x="1332.19" y="634.70" width="14.70" height="38.80" fill="#008000" stroke="#006800" stroke-width="0.6"/>
<rect x="1350.67" y="600.20" width="14.70" height="73.30" fill="#008000" stroke="#006800" stroke-width="0.6"/>
<rect x="1369.15" y="609.70" width="14.70" height="63.80" fill="#008000" stroke="#006800" stroke-width="0.6"/>
<rect x="1387.63" y="643.10" width="14.70" height="30.40" fill="#008000" stroke="#006800" stroke-width="0.6"/>
<rect x="999.90" y="581.70" width="14" height="42.00" fill="#fff"/>
<text transform="translate(1011.30,621.70) rotate(-90)" font-size="13.2" font-weight="bold" font-family='"Liberation Sans", sans-serif' textLength="38" lengthAdjust="spacingAndGlyphs">0.00%</text>
<rect x="1018.38" y="583.40" width="14" height="48.00" fill="#fff"/>
<text transform="translate(1029.78,629.40) rotate(-90)" font-size="13.2" font-weight="bold" font-family='"Liberation Sans", sans-serif' textLength="44" lengthAdjust="spacingAndGlyphs">−0.20%</text>
<rect x="1036.86" y="549.50" width="14" height="42.00" fill="#fff"/>
<text transform="translate(1048.26,589.50) rotate(-90)" font-size="13.2" font-weight="bold" font-family='"Liberation Sans", sans-serif' textLength="38" lengthAdjust="spacingAndGlyphs">1.20%</text>
<rect x="1055.34" y="548.20" width="14" height="42.00" fill="#fff"/>
<text transform="translate(1066.74,588.20) rotate(-90)" font-size="13.2" font-weight="bold" font-family='"Liberation Sans", sans-serif' textLength="38" lengthAdjust="spacingAndGlyphs">0.00%</text>
<rect x="1073.82" y="515.10" width="14" height="42.00" fill="#fff"/>
<text transform="translate(1085.22,555.10) rotate(-90)" font-size="13.2" font-weight="bold" font-family='"Liberation Sans", sans-serif' textLength="38" lengthAdjust="spacingAndGlyphs">1.10%</text>
<rect x="1092.30" y="501.70" width="14" height="42.00" fill="#fff"/>
<text transform="translate(1103.70,541.70) rotate(-90)" font-size="13.2" font-weight="bold" font-family='"Liberation Sans", sans-serif' textLength="38" lengthAdjust="spacingAndGlyphs">0.40%</text>
<rect x="1110.78" y="555.50" width="14" height="48.00" fill="#fff"/>
<text transform="translate(1122.18,601.50) rotate(-90)" font-size="13.2" font-weight="bold" font-family='"Liberation Sans", sans-serif' textLength="44" lengthAdjust="spacingAndGlyphs">−1.90%</text>
<rect x="1129.26" y="564.20" width="14" height="48.00" fill="#fff"/>
<text transform="translate(1140.66,610.20) rotate(-90)" font-size="13.2" font-weight="bold" font-family='"Liberation Sans", sans-serif' textLength="44" lengthAdjust="spacingAndGlyphs">−0.30%</text>
<rect x="1147.74" y="551.10" width="14" height="42.00" fill="#fff"/>
<text transform="translate(1159.14,591.10) rotate(-90)" font-size="13.2" font-weight="bold" font-family='"Liberation Sans", sans-serif' textLength="38" lengthAdjust="spacingAndGlyphs">0.60%</text>
<rect x="1166.22" y="561.20" width="14" height="48.00" fill="#fff"/>
<text transform="translate(1177.62,607.20) rotate(-90)" font-size="13.2" font-weight="bold" font-family='"Liberation Sans", sans-serif' textLength="44" lengthAdjust="spacingAndGlyphs">−0.50%</text>
<rect x="1184.70" y="567.20" width="14" height="42.00" fill="#fff"/>
<text transform="translate(1196.10,607.20) rotate(-90)" font-size="13.2" font-weight="bold" font-family='"Liberation Sans", sans-serif' textLength="38" lengthAdjust="spacingAndGlyphs">0.00%</text>
<rect x="1203.18" y="588.90" width="14" height="48.00" fill="#fff"/>
<text transform="translate(1214.58,634.90) rotate(-90)" font-size="13.2" font-weight="bold" font-family='"Liberation Sans", sans-serif' textLength="44" lengthAdjust="spacingAndGlyphs">−0.90%</text>
<rect x="1221.66" y="608.80" width="14" height="48.00" fill="#fff"/>
<text transform="translate(1233.06,654.80) rotate(-90)" font-size="13.2" font-weight="bold" font-family='"Liberation Sans", sans-serif' textLength="44" lengthAdjust="spacingAndGlyphs">−0.60%</text>
<rect x="1240.14" y="558.50" width="14" height="42.00" fill="#fff"/>
<text transform="translate(1251.54,598.50) rotate(-90)" font-size="13.2" font-weight="bold" font-family='"Liberation Sans", sans-serif' textLength="38" lengthAdjust="spacingAndGlyphs">1.80%</text>
<rect x="1258.62" y="550.20" width="14" height="42.00" fill="#fff"/>
<text transform="translate(1270.02,590.20) rotate(-90)" font-size="13.2" font-weight="bold" font-family='"Liberation Sans", sans-serif' textLength="38" lengthAdjust="spacingAndGlyphs">0.30%</text>
<rect x="1277.10" y="573.40" width="14" height="48.00" fill="#fff"/>
<text transform="translate(1288.50,619.40) rotate(-90)" font-size="13.2" font-weight="bold" font-family='"Liberation Sans", sans-serif' textLength="44" lengthAdjust="spacingAndGlyphs">−0.90%</text>
<rect x="1295.58" y="580.60" width="14" height="42.00" fill="#fff"/>
<text transform="translate(1306.98,620.60) rotate(-90)" font-size="13.2" font-weight="bold" font-family='"Liberation Sans", sans-serif' textLength="38" lengthAdjust="spacingAndGlyphs">0.00%</text>
<rect x="1314.06" y="593.40" width="14" height="48.00" fill="#fff"/>
<text transform="translate(1325.46,639.40) rotate(-90)" font-size="13.2" font-weight="bold" font-family='"Liberation Sans", sans-serif' textLength="44" lengthAdjust="spacingAndGlyphs">−0.60%</text>
<rect x="1332.54" y="589.20" width="14" height="42.00" fill="#fff"/>
<text transform="translate(1343.94,629.20) rotate(-90)" font-size="13.2" font-weight="bold" font-family='"Liberation Sans", sans-serif' textLength="38" lengthAdjust="spacingAndGlyphs">0.30%</text>
<rect x="1351.02" y="554.70" width="14" height="42.00" fill="#fff"/>
<text transform="translate(1362.42,594.70) rotate(-90)" font-size="13.2" font-weight="bold" font-family='"Liberation Sans", sans-serif' textLength="38" lengthAdjust="spacingAndGlyphs">1.10%</text>
<rect x="1369.50" y="558.20" width="14" height="48.00" fill="#fff"/>
<text transform="translate(1380.90,604.20) rotate(-90)" font-size="13.2" font-weight="bold" font-family='"Liberation Sans", sans-serif' textLength="44" lengthAdjust="spacingAndGlyphs">−0.30%</text>
<rect x="1387.98" y="591.60" width="14" height="48.00" fill="#fff"/>
<text transform="translate(1399.38,637.60) rotate(-90)" font-size="13.2" font-weight="bold" font-family='"Liberation Sans", sans-serif' textLength="44" lengthAdjust="spacingAndGlyphs">−1.10%</text>
</svg></body></html>
